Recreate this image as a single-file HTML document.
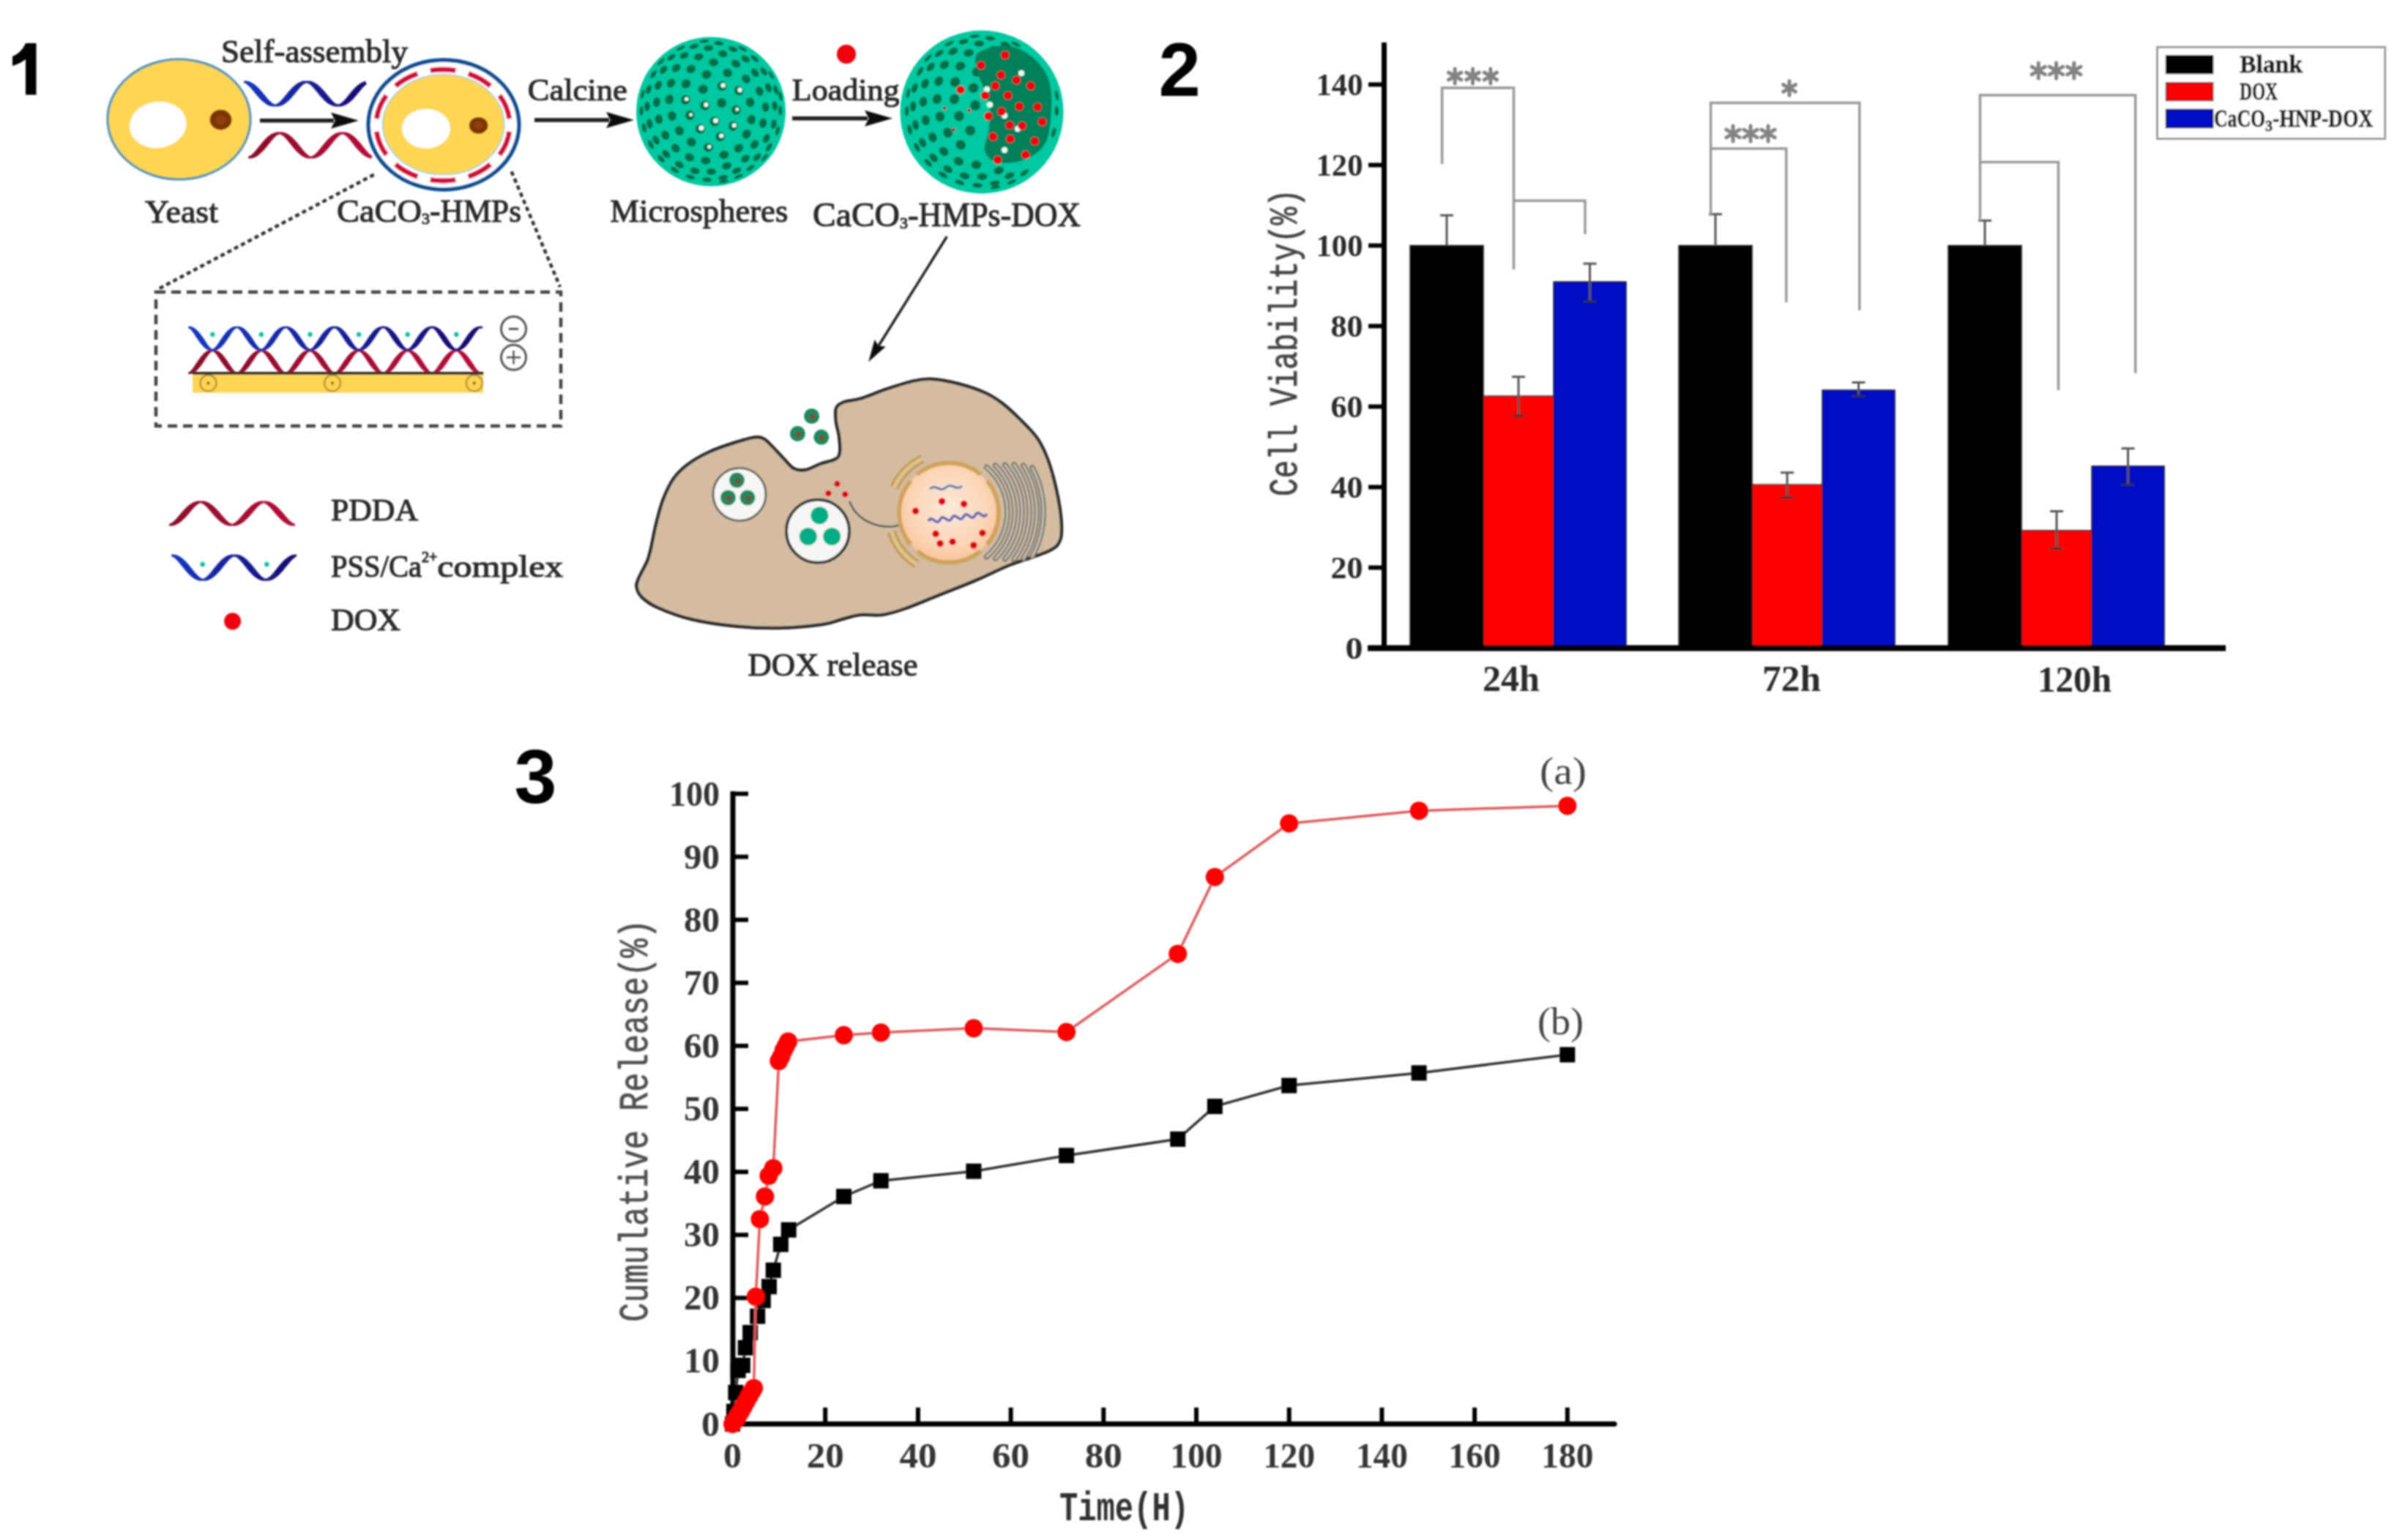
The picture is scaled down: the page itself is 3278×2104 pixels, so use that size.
<!DOCTYPE html><html><head><meta charset="utf-8"><style>html,body{margin:0;padding:0;background:#fff;overflow:hidden}svg{display:block}</style></head><body><svg width="3278" height="2104" viewBox="0 0 3278 2104"><defs><filter id="soft" x="-5%" y="-5%" width="110%" height="110%"><feGaussianBlur stdDeviation="1.2"/></filter><radialGradient id="nuc" cx="0.5" cy="0.45" r="0.55"><stop offset="0" stop-color="#fde9dc"/><stop offset="0.7" stop-color="#fbd6b8"/><stop offset="1" stop-color="#f8c49b"/></radialGradient><linearGradient id="bluew" x1="0" x2="1"><stop offset="0" stop-color="#1238c0"/><stop offset="1" stop-color="#1a0a70"/></linearGradient><linearGradient id="redw" x1="0" x2="1"><stop offset="0" stop-color="#8a0a2a"/><stop offset="1" stop-color="#b8103a"/></linearGradient></defs><rect width="3278" height="2104" fill="#fff"/><g filter="url(#soft)"><path d="M35,59 L49.5,59 L49.5,129.5 L35,129.5 L35,81 C30,85 24,88 17,90 L17,77 C25,74 31,68 35,59 Z" fill="#000"/>
<text x="1582.5" y="130.5" font-family="'Liberation Sans', sans-serif" font-size="103" font-weight="bold" fill="#000" text-anchor="start">2</text>
<text x="702.5" y="1096.5" font-family="'Liberation Sans', sans-serif" font-size="104" font-weight="bold" fill="#000" text-anchor="start">3</text>
<rect x="1926" y="335.5" width="100" height="550.0" fill="#050505" stroke="#222" stroke-width="1.5"/>
<rect x="2026" y="541.2" width="96" height="344.3" fill="#ff0000" stroke="#222" stroke-width="1.5"/>
<rect x="2122" y="385.0" width="99" height="500.5" fill="#0008c4" stroke="#222" stroke-width="1.5"/>
<line x1="1976.0" y1="294.2" x2="1976.0" y2="335.5" stroke="#555" stroke-width="3"/>
<line x1="1967.0" y1="294.2" x2="1985.0" y2="294.2" stroke="#555" stroke-width="3"/>
<line x1="2074.0" y1="514.8" x2="2074.0" y2="568.1" stroke="#555" stroke-width="3"/>
<line x1="2065.0" y1="514.8" x2="2083.0" y2="514.8" stroke="#555" stroke-width="3"/>
<line x1="2065.0" y1="568.1" x2="2083.0" y2="568.1" stroke="#333" stroke-width="3"/>
<line x1="2171.5" y1="360.2" x2="2171.5" y2="412.0" stroke="#555" stroke-width="3"/>
<line x1="2162.5" y1="360.2" x2="2180.5" y2="360.2" stroke="#555" stroke-width="3"/>
<line x1="2162.5" y1="412.0" x2="2180.5" y2="412.0" stroke="#333" stroke-width="3"/>
<rect x="2293" y="335.5" width="100" height="550.0" fill="#050505" stroke="#222" stroke-width="1.5"/>
<rect x="2393" y="662.2" width="96" height="223.3" fill="#ff0000" stroke="#222" stroke-width="1.5"/>
<rect x="2489" y="533.0" width="99" height="352.5" fill="#0008c4" stroke="#222" stroke-width="1.5"/>
<line x1="2343.0" y1="292.6" x2="2343.0" y2="335.5" stroke="#555" stroke-width="3"/>
<line x1="2334.0" y1="292.6" x2="2352.0" y2="292.6" stroke="#555" stroke-width="3"/>
<line x1="2441.0" y1="645.7" x2="2441.0" y2="679.8" stroke="#555" stroke-width="3"/>
<line x1="2432.0" y1="645.7" x2="2450.0" y2="645.7" stroke="#555" stroke-width="3"/>
<line x1="2432.0" y1="679.8" x2="2450.0" y2="679.8" stroke="#333" stroke-width="3"/>
<line x1="2538.5" y1="522.5" x2="2538.5" y2="541.2" stroke="#555" stroke-width="3"/>
<line x1="2529.5" y1="522.5" x2="2547.5" y2="522.5" stroke="#555" stroke-width="3"/>
<line x1="2529.5" y1="541.2" x2="2547.5" y2="541.2" stroke="#333" stroke-width="3"/>
<rect x="2661" y="335.5" width="100" height="550.0" fill="#050505" stroke="#222" stroke-width="1.5"/>
<rect x="2761" y="724.9" width="96" height="160.6" fill="#ff0000" stroke="#222" stroke-width="1.5"/>
<rect x="2857" y="636.9" width="99" height="248.6" fill="#0008c4" stroke="#222" stroke-width="1.5"/>
<line x1="2711.0" y1="301.4" x2="2711.0" y2="335.5" stroke="#555" stroke-width="3"/>
<line x1="2702.0" y1="301.4" x2="2720.0" y2="301.4" stroke="#555" stroke-width="3"/>
<line x1="2809.0" y1="698.5" x2="2809.0" y2="749.6" stroke="#555" stroke-width="3"/>
<line x1="2800.0" y1="698.5" x2="2818.0" y2="698.5" stroke="#555" stroke-width="3"/>
<line x1="2800.0" y1="749.6" x2="2818.0" y2="749.6" stroke="#333" stroke-width="3"/>
<line x1="2906.5" y1="612.7" x2="2906.5" y2="662.2" stroke="#555" stroke-width="3"/>
<line x1="2897.5" y1="612.7" x2="2915.5" y2="612.7" stroke="#555" stroke-width="3"/>
<line x1="2897.5" y1="662.2" x2="2915.5" y2="662.2" stroke="#333" stroke-width="3"/>
<line x1="1890.5" y1="58" x2="1890.5" y2="889" stroke="#000" stroke-width="7"/>
<line x1="1868" y1="885.5" x2="3040" y2="885.5" stroke="#000" stroke-width="8"/>
<line x1="1869" y1="885.5" x2="1890.5" y2="885.5" stroke="#000" stroke-width="6"/>
<text x="1861.5" y="900.0" font-family="'Liberation Serif', serif" font-size="43" font-weight="bold" fill="#2a2a2a" text-anchor="end" textLength="24" lengthAdjust="spacingAndGlyphs">0</text>
<line x1="1869" y1="775.5" x2="1890.5" y2="775.5" stroke="#000" stroke-width="6"/>
<text x="1861.5" y="790.0" font-family="'Liberation Serif', serif" font-size="43" font-weight="bold" fill="#2a2a2a" text-anchor="end" textLength="44" lengthAdjust="spacingAndGlyphs">20</text>
<line x1="1869" y1="665.5" x2="1890.5" y2="665.5" stroke="#000" stroke-width="6"/>
<text x="1861.5" y="680.0" font-family="'Liberation Serif', serif" font-size="43" font-weight="bold" fill="#2a2a2a" text-anchor="end" textLength="44" lengthAdjust="spacingAndGlyphs">40</text>
<line x1="1869" y1="555.5" x2="1890.5" y2="555.5" stroke="#000" stroke-width="6"/>
<text x="1861.5" y="570.0" font-family="'Liberation Serif', serif" font-size="43" font-weight="bold" fill="#2a2a2a" text-anchor="end" textLength="44" lengthAdjust="spacingAndGlyphs">60</text>
<line x1="1869" y1="445.5" x2="1890.5" y2="445.5" stroke="#000" stroke-width="6"/>
<text x="1861.5" y="460.0" font-family="'Liberation Serif', serif" font-size="43" font-weight="bold" fill="#2a2a2a" text-anchor="end" textLength="44" lengthAdjust="spacingAndGlyphs">80</text>
<line x1="1869" y1="335.5" x2="1890.5" y2="335.5" stroke="#000" stroke-width="6"/>
<text x="1861.5" y="350.0" font-family="'Liberation Serif', serif" font-size="43" font-weight="bold" fill="#2a2a2a" text-anchor="end" textLength="64" lengthAdjust="spacingAndGlyphs">100</text>
<line x1="1869" y1="225.5" x2="1890.5" y2="225.5" stroke="#000" stroke-width="6"/>
<text x="1861.5" y="240.0" font-family="'Liberation Serif', serif" font-size="43" font-weight="bold" fill="#2a2a2a" text-anchor="end" textLength="64" lengthAdjust="spacingAndGlyphs">120</text>
<line x1="1869" y1="115.5" x2="1890.5" y2="115.5" stroke="#000" stroke-width="6"/>
<text x="1861.5" y="130.0" font-family="'Liberation Serif', serif" font-size="43" font-weight="bold" fill="#2a2a2a" text-anchor="end" textLength="64" lengthAdjust="spacingAndGlyphs">140</text>
<text x="2064.0" y="943.5" font-family="'Liberation Serif', serif" font-size="50" font-weight="bold" fill="#2a2a2a" text-anchor="middle" textLength="78" lengthAdjust="spacingAndGlyphs">24h</text>
<text x="2447.0" y="943.5" font-family="'Liberation Serif', serif" font-size="50" font-weight="bold" fill="#2a2a2a" text-anchor="middle" textLength="80" lengthAdjust="spacingAndGlyphs">72h</text>
<text x="2833.5" y="945.0" font-family="'Liberation Serif', serif" font-size="50" font-weight="bold" fill="#2a2a2a" text-anchor="middle" textLength="101" lengthAdjust="spacingAndGlyphs">120h</text>
<text transform="translate(1771,678) rotate(-90)" font-family="'Liberation Mono', monospace" font-size="54" font-weight="normal" fill="#444" stroke="#444" stroke-width="0.8" textLength="420" lengthAdjust="spacingAndGlyphs">Cell Viability(%)</text>
<path d="M1969.6,224 V120 H2067.5 V368" stroke="#999" stroke-width="3.5" fill="none"/>
<path d="M2067.5,274.3 H2165 V320" stroke="#999" stroke-width="3.5" fill="none"/>
<path d="M2336.6,295 V140.5 H2539.7 V424" stroke="#999" stroke-width="3.5" fill="none"/>
<path d="M2336.6,203 H2439.7 V413" stroke="#999" stroke-width="3.5" fill="none"/>
<path d="M2704.4,302 V130 H2916.6 V510" stroke="#999" stroke-width="3.5" fill="none"/>
<path d="M2704.4,221.6 H2811.4 V533" stroke="#999" stroke-width="3.5" fill="none"/>
<path d="M1987.2,94.0 L1987.2,114.0 M1995.8,99.0 L1978.5,109.0 M1995.8,109.0 L1978.5,99.0 " stroke="#838383" stroke-width="5" stroke-linecap="round"/>
<path d="M2011.5,94.0 L2011.5,114.0 M2020.2,99.0 L2002.8,109.0 M2020.2,109.0 L2002.8,99.0 " stroke="#838383" stroke-width="5" stroke-linecap="round"/>
<path d="M2035.8,94.0 L2035.8,114.0 M2044.5,99.0 L2027.2,109.0 M2044.5,109.0 L2027.2,99.0 " stroke="#838383" stroke-width="5" stroke-linecap="round"/>
<path d="M2444.0,110.8 L2444.0,130.2 M2452.4,115.7 L2435.6,125.3 M2452.4,125.3 L2435.6,115.7 " stroke="#838383" stroke-width="5" stroke-linecap="round"/>
<path d="M2367.0,171.9 L2367.0,193.1 M2376.1,177.2 L2357.9,187.8 M2376.1,187.8 L2357.9,177.2 " stroke="#838383" stroke-width="5" stroke-linecap="round"/>
<path d="M2391.0,171.9 L2391.0,193.1 M2400.1,177.2 L2381.9,187.8 M2400.1,187.8 L2381.9,177.2 " stroke="#838383" stroke-width="5" stroke-linecap="round"/>
<path d="M2415.0,171.9 L2415.0,193.1 M2424.1,177.2 L2405.9,187.8 M2424.1,187.8 L2405.9,177.2 " stroke="#838383" stroke-width="5" stroke-linecap="round"/>
<path d="M2784.2,86.0 L2784.2,107.0 M2793.3,91.2 L2775.1,101.8 M2793.3,101.8 L2775.1,91.2 " stroke="#838383" stroke-width="5" stroke-linecap="round"/>
<path d="M2808.5,86.0 L2808.5,107.0 M2817.6,91.2 L2799.4,101.8 M2817.6,101.8 L2799.4,91.2 " stroke="#838383" stroke-width="5" stroke-linecap="round"/>
<path d="M2832.8,86.0 L2832.8,107.0 M2841.9,91.2 L2823.7,101.8 M2841.9,101.8 L2823.7,91.2 " stroke="#838383" stroke-width="5" stroke-linecap="round"/>
<rect x="2946.5" y="64.5" width="311" height="125" fill="#fff" stroke="#999" stroke-width="3"/>
<rect x="2958.5" y="76" width="64" height="24.5" fill="#050505" stroke="#111" stroke-width="1.5"/>
<rect x="2958.5" y="113" width="64" height="24.5" fill="#ff0000" stroke="#400" stroke-width="1.5"/>
<rect x="2958.5" y="149.5" width="64" height="25" fill="#0008c4" stroke="#002" stroke-width="1.5"/>
<text x="3059.0" y="98.5" font-family="'Liberation Serif', serif" font-size="34" font-weight="bold" fill="#222" text-anchor="start" textLength="86" lengthAdjust="spacingAndGlyphs" stroke="#222" stroke-width="0.8">Blank</text>
<text x="3059.0" y="136.0" font-family="'Liberation Serif', serif" font-size="34" font-weight="bold" fill="#222" text-anchor="start" textLength="52" lengthAdjust="spacingAndGlyphs" stroke="#222" stroke-width="0.8">DOX</text>
<text x="3024" y="173" font-family="'Liberation Serif', serif" font-size="34" font-weight="bold" fill="#222" stroke="#222" stroke-width="0.8"><tspan textLength="70" lengthAdjust="spacingAndGlyphs">CaCO</tspan><tspan dy="6" font-size="22" textLength="10" lengthAdjust="spacingAndGlyphs">3</tspan><tspan dy="-6" textLength="137" lengthAdjust="spacingAndGlyphs">-HNP-DOX</tspan></text>
<line x1="1001" y1="1081" x2="1001" y2="1949" stroke="#000" stroke-width="7"/>
<line x1="998" y1="1945.5" x2="2205" y2="1945.5" stroke="#000" stroke-width="7" stroke-linecap="round"/>
<line x1="1001" y1="1945.5" x2="1022" y2="1945.5" stroke="#000" stroke-width="6"/>
<text x="983.0" y="1961.5" font-family="'Liberation Serif', serif" font-size="48" font-weight="bold" fill="#353535" text-anchor="end" textLength="25" lengthAdjust="spacingAndGlyphs">0</text>
<line x1="1001" y1="1859.4" x2="1022" y2="1859.4" stroke="#000" stroke-width="6"/>
<text x="983.0" y="1875.4" font-family="'Liberation Serif', serif" font-size="48" font-weight="bold" fill="#353535" text-anchor="end" textLength="49" lengthAdjust="spacingAndGlyphs">10</text>
<line x1="1001" y1="1773.3" x2="1022" y2="1773.3" stroke="#000" stroke-width="6"/>
<text x="983.0" y="1789.3" font-family="'Liberation Serif', serif" font-size="48" font-weight="bold" fill="#353535" text-anchor="end" textLength="49" lengthAdjust="spacingAndGlyphs">20</text>
<line x1="1001" y1="1687.2" x2="1022" y2="1687.2" stroke="#000" stroke-width="6"/>
<text x="983.0" y="1703.2" font-family="'Liberation Serif', serif" font-size="48" font-weight="bold" fill="#353535" text-anchor="end" textLength="49" lengthAdjust="spacingAndGlyphs">30</text>
<line x1="1001" y1="1601.1" x2="1022" y2="1601.1" stroke="#000" stroke-width="6"/>
<text x="983.0" y="1617.1" font-family="'Liberation Serif', serif" font-size="48" font-weight="bold" fill="#353535" text-anchor="end" textLength="49" lengthAdjust="spacingAndGlyphs">40</text>
<line x1="1001" y1="1515.0" x2="1022" y2="1515.0" stroke="#000" stroke-width="6"/>
<text x="983.0" y="1531.0" font-family="'Liberation Serif', serif" font-size="48" font-weight="bold" fill="#353535" text-anchor="end" textLength="49" lengthAdjust="spacingAndGlyphs">50</text>
<line x1="1001" y1="1428.9" x2="1022" y2="1428.9" stroke="#000" stroke-width="6"/>
<text x="983.0" y="1444.9" font-family="'Liberation Serif', serif" font-size="48" font-weight="bold" fill="#353535" text-anchor="end" textLength="49" lengthAdjust="spacingAndGlyphs">60</text>
<line x1="1001" y1="1342.8" x2="1022" y2="1342.8" stroke="#000" stroke-width="6"/>
<text x="983.0" y="1358.8" font-family="'Liberation Serif', serif" font-size="48" font-weight="bold" fill="#353535" text-anchor="end" textLength="49" lengthAdjust="spacingAndGlyphs">70</text>
<line x1="1001" y1="1256.7" x2="1022" y2="1256.7" stroke="#000" stroke-width="6"/>
<text x="983.0" y="1272.7" font-family="'Liberation Serif', serif" font-size="48" font-weight="bold" fill="#353535" text-anchor="end" textLength="49" lengthAdjust="spacingAndGlyphs">80</text>
<line x1="1001" y1="1170.6" x2="1022" y2="1170.6" stroke="#000" stroke-width="6"/>
<text x="983.0" y="1186.6" font-family="'Liberation Serif', serif" font-size="48" font-weight="bold" fill="#353535" text-anchor="end" textLength="49" lengthAdjust="spacingAndGlyphs">90</text>
<line x1="1001" y1="1084.5" x2="1022" y2="1084.5" stroke="#000" stroke-width="6"/>
<text x="983.0" y="1100.5" font-family="'Liberation Serif', serif" font-size="48" font-weight="bold" fill="#353535" text-anchor="end" textLength="69" lengthAdjust="spacingAndGlyphs">100</text>
<line x1="1000.5" y1="1923" x2="1000.5" y2="1945" stroke="#000" stroke-width="6"/>
<text x="1000.5" y="2005.0" font-family="'Liberation Serif', serif" font-size="48" font-weight="bold" fill="#353535" text-anchor="middle" textLength="25" lengthAdjust="spacingAndGlyphs">0</text>
<line x1="1127.2" y1="1923" x2="1127.2" y2="1945" stroke="#000" stroke-width="6"/>
<text x="1127.2" y="2005.0" font-family="'Liberation Serif', serif" font-size="48" font-weight="bold" fill="#353535" text-anchor="middle" textLength="51" lengthAdjust="spacingAndGlyphs">20</text>
<line x1="1253.9" y1="1923" x2="1253.9" y2="1945" stroke="#000" stroke-width="6"/>
<text x="1253.9" y="2005.0" font-family="'Liberation Serif', serif" font-size="48" font-weight="bold" fill="#353535" text-anchor="middle" textLength="51" lengthAdjust="spacingAndGlyphs">40</text>
<line x1="1380.6" y1="1923" x2="1380.6" y2="1945" stroke="#000" stroke-width="6"/>
<text x="1380.6" y="2005.0" font-family="'Liberation Serif', serif" font-size="48" font-weight="bold" fill="#353535" text-anchor="middle" textLength="51" lengthAdjust="spacingAndGlyphs">60</text>
<line x1="1507.3" y1="1923" x2="1507.3" y2="1945" stroke="#000" stroke-width="6"/>
<text x="1507.3" y="2005.0" font-family="'Liberation Serif', serif" font-size="48" font-weight="bold" fill="#353535" text-anchor="middle" textLength="51" lengthAdjust="spacingAndGlyphs">80</text>
<line x1="1634.0" y1="1923" x2="1634.0" y2="1945" stroke="#000" stroke-width="6"/>
<text x="1634.0" y="2005.0" font-family="'Liberation Serif', serif" font-size="48" font-weight="bold" fill="#353535" text-anchor="middle" textLength="71" lengthAdjust="spacingAndGlyphs">100</text>
<line x1="1760.7" y1="1923" x2="1760.7" y2="1945" stroke="#000" stroke-width="6"/>
<text x="1760.7" y="2005.0" font-family="'Liberation Serif', serif" font-size="48" font-weight="bold" fill="#353535" text-anchor="middle" textLength="71" lengthAdjust="spacingAndGlyphs">120</text>
<line x1="1887.4" y1="1923" x2="1887.4" y2="1945" stroke="#000" stroke-width="6"/>
<text x="1887.4" y="2005.0" font-family="'Liberation Serif', serif" font-size="48" font-weight="bold" fill="#353535" text-anchor="middle" textLength="71" lengthAdjust="spacingAndGlyphs">140</text>
<line x1="2014.1" y1="1923" x2="2014.1" y2="1945" stroke="#000" stroke-width="6"/>
<text x="2014.1" y="2005.0" font-family="'Liberation Serif', serif" font-size="48" font-weight="bold" fill="#353535" text-anchor="middle" textLength="71" lengthAdjust="spacingAndGlyphs">160</text>
<line x1="2140.8" y1="1923" x2="2140.8" y2="1945" stroke="#000" stroke-width="6"/>
<text x="2140.8" y="2005.0" font-family="'Liberation Serif', serif" font-size="48" font-weight="bold" fill="#353535" text-anchor="middle" textLength="71" lengthAdjust="spacingAndGlyphs">180</text>
<text transform="translate(884,1806) rotate(-90)" font-family="'Liberation Mono', monospace" font-size="56" font-weight="normal" fill="#505050" stroke="#505050" stroke-width="0.8" textLength="550" lengthAdjust="spacingAndGlyphs">Cumulative Release(%)</text>
<text x="1447" y="2077" font-family="'Liberation Mono', monospace" font-size="56" font-weight="bold" fill="#333" textLength="177" lengthAdjust="spacingAndGlyphs">Time(H)</text>
<text x="2103.0" y="1071.0" font-family="'Liberation Serif', serif" font-size="52" font-weight="normal" fill="#444" text-anchor="start" textLength="64" lengthAdjust="spacingAndGlyphs">(a)</text>
<text x="2100.0" y="1413.0" font-family="'Liberation Serif', serif" font-size="52" font-weight="normal" fill="#444" text-anchor="start" textLength="63" lengthAdjust="spacingAndGlyphs">(b)</text>
<polyline points="1000.5,1945.5 1002.4,1928.3 1004.9,1902.5 1008.1,1872.3 1014.4,1865.4 1018.2,1841.3 1024.6,1820.7 1034.7,1798.3 1042.3,1776.7 1050.5,1757.8 1056.2,1735.4 1066.4,1700.1 1077.2,1680.3 1152.5,1634.7 1203.2,1613.2 1329.9,1600.2 1456.6,1578.7 1608.7,1556.3 1659.3,1511.6 1760.7,1483.1 1938.1,1465.9 2140.8,1441.0" fill="none" stroke="#333" stroke-width="3.5"/>
<rect x="990.0" y="1935.0" width="21" height="21" fill="#050505"/>
<rect x="991.9" y="1917.8" width="21" height="21" fill="#050505"/>
<rect x="994.4" y="1892.0" width="21" height="21" fill="#050505"/>
<rect x="997.6" y="1861.8" width="21" height="21" fill="#050505"/>
<rect x="1003.9" y="1854.9" width="21" height="21" fill="#050505"/>
<rect x="1007.7" y="1830.8" width="21" height="21" fill="#050505"/>
<rect x="1014.1" y="1810.2" width="21" height="21" fill="#050505"/>
<rect x="1024.2" y="1787.8" width="21" height="21" fill="#050505"/>
<rect x="1031.8" y="1766.2" width="21" height="21" fill="#050505"/>
<rect x="1040.0" y="1747.3" width="21" height="21" fill="#050505"/>
<rect x="1045.7" y="1724.9" width="21" height="21" fill="#050505"/>
<rect x="1055.9" y="1689.6" width="21" height="21" fill="#050505"/>
<rect x="1066.7" y="1669.8" width="21" height="21" fill="#050505"/>
<rect x="1142.0" y="1624.2" width="21" height="21" fill="#050505"/>
<rect x="1192.7" y="1602.7" width="21" height="21" fill="#050505"/>
<rect x="1319.4" y="1589.7" width="21" height="21" fill="#050505"/>
<rect x="1446.1" y="1568.2" width="21" height="21" fill="#050505"/>
<rect x="1598.2" y="1545.8" width="21" height="21" fill="#050505"/>
<rect x="1648.8" y="1501.1" width="21" height="21" fill="#050505"/>
<rect x="1750.2" y="1472.6" width="21" height="21" fill="#050505"/>
<rect x="1927.6" y="1455.4" width="21" height="21" fill="#050505"/>
<rect x="2130.3" y="1430.5" width="21" height="21" fill="#050505"/>
<polyline points="1000.5,1945.5 1004.3,1940.3 1008.1,1934.3 1011.9,1928.3 1015.7,1921.4 1019.5,1914.5 1023.3,1907.6 1027.1,1900.7 1029.6,1896.4 1032.2,1771.6 1037.9,1665.7 1044.8,1634.7 1049.9,1606.3 1056.2,1595.9 1063.8,1449.6 1067.0,1443.5 1070.2,1434.9 1073.4,1428.9 1076.5,1422.9 1152.5,1414.3 1203.2,1410.8 1329.9,1404.8 1456.6,1410.0 1608.7,1303.2 1659.3,1198.2 1760.7,1125.0 1938.1,1107.7 2140.8,1100.9" fill="none" stroke="#e05a5a" stroke-width="3.5"/>
<circle cx="1000.5" cy="1945.5" r="12.5" fill="#ff0000"/>
<circle cx="1004.3" cy="1940.3" r="12.5" fill="#ff0000"/>
<circle cx="1008.1" cy="1934.3" r="12.5" fill="#ff0000"/>
<circle cx="1011.9" cy="1928.3" r="12.5" fill="#ff0000"/>
<circle cx="1015.7" cy="1921.4" r="12.5" fill="#ff0000"/>
<circle cx="1019.5" cy="1914.5" r="12.5" fill="#ff0000"/>
<circle cx="1023.3" cy="1907.6" r="12.5" fill="#ff0000"/>
<circle cx="1027.1" cy="1900.7" r="12.5" fill="#ff0000"/>
<circle cx="1029.6" cy="1896.4" r="12.5" fill="#ff0000"/>
<circle cx="1032.2" cy="1771.6" r="12.5" fill="#ff0000"/>
<circle cx="1037.9" cy="1665.7" r="12.5" fill="#ff0000"/>
<circle cx="1044.8" cy="1634.7" r="12.5" fill="#ff0000"/>
<circle cx="1049.9" cy="1606.3" r="12.5" fill="#ff0000"/>
<circle cx="1056.2" cy="1595.9" r="12.5" fill="#ff0000"/>
<circle cx="1063.8" cy="1449.6" r="12.5" fill="#ff0000"/>
<circle cx="1067.0" cy="1443.5" r="12.5" fill="#ff0000"/>
<circle cx="1070.2" cy="1434.9" r="12.5" fill="#ff0000"/>
<circle cx="1073.4" cy="1428.9" r="12.5" fill="#ff0000"/>
<circle cx="1076.5" cy="1422.9" r="12.5" fill="#ff0000"/>
<circle cx="1152.5" cy="1414.3" r="12.5" fill="#ff0000"/>
<circle cx="1203.2" cy="1410.8" r="12.5" fill="#ff0000"/>
<circle cx="1329.9" cy="1404.8" r="12.5" fill="#ff0000"/>
<circle cx="1456.6" cy="1410.0" r="12.5" fill="#ff0000"/>
<circle cx="1608.7" cy="1303.2" r="12.5" fill="#ff0000"/>
<circle cx="1659.3" cy="1198.2" r="12.5" fill="#ff0000"/>
<circle cx="1760.7" cy="1125.0" r="12.5" fill="#ff0000"/>
<circle cx="1938.1" cy="1107.7" r="12.5" fill="#ff0000"/>
<circle cx="2140.8" cy="1100.9" r="12.5" fill="#ff0000"/>
<ellipse cx="244.5" cy="163" rx="97.5" ry="82" fill="#ffd651" stroke="#5a9ab4" stroke-width="3.5"/>
<ellipse cx="215.7" cy="170.5" rx="39" ry="31.5" fill="#fff" transform="rotate(-8 215.7 170.5)"/>
<ellipse cx="301.5" cy="163.7" rx="15" ry="14" fill="#7e3602"/>
<ellipse cx="301.5" cy="163.7" rx="7" ry="6" fill="#8e4208"/>
<path d="M333.0,113.2 L334.2,113.6 L335.4,114.1 L336.5,114.8 L337.5,115.5 L338.6,116.4 L339.7,117.4 L340.8,118.5 L341.9,119.6 L343.1,120.9 L344.2,122.3 L345.4,123.8 L346.7,125.3 L348.0,126.9 L349.3,128.5 L350.6,130.1 L352.0,131.7 L353.5,133.3 L354.9,134.9 L356.5,136.5 L358.0,137.9 L359.6,139.3 L361.2,140.6 L362.8,141.8 L364.5,142.8 L366.2,143.7 L367.9,144.4 L369.6,145.0 L371.3,145.3 L373.0,145.5 L374.6,145.4 L376.2,145.3 L377.8,145.5 L379.4,145.5 L381.1,145.2 L382.8,144.8 L384.5,144.2 L386.2,143.4 L387.9,142.5 L389.5,141.4 L391.2,140.2 L392.8,138.8 L394.3,137.4 L395.9,135.9 L397.4,134.4 L398.8,132.8 L400.2,131.1 L401.6,129.5 L403.0,127.9 L404.3,126.3 L405.6,124.7 L406.8,123.2 L408.0,121.8 L409.2,120.5 L410.3,119.2 L411.4,118.1 L412.5,117.0 L413.6,116.1 L414.6,115.2 L415.7,114.5 L416.8,113.9 L418.0,113.5 L419.2,113.4 L420.4,113.8 L421.5,114.3 L422.6,115.0 L423.7,115.8 L424.8,116.7 L425.9,117.7 L427.0,118.9 L428.1,120.1 L429.3,121.4 L430.4,122.8 L431.7,124.3 L432.9,125.8 L434.2,127.4 L435.6,129.0 L436.9,130.7 L438.3,132.3 L439.8,133.9 L441.3,135.5 L442.8,137.0 L444.3,138.4 L445.9,139.8 L447.6,141.0 L449.2,142.2 L450.9,143.1 L452.6,144.0 L454.3,144.6 L456.0,145.1 L457.7,145.4 L459.3,145.5 L461.0,145.4 L462.5,145.4 L464.1,145.5 L465.8,145.4 L467.5,145.1 L469.2,144.6 L470.9,144.0 L472.6,143.1 L474.3,142.1 L475.9,141.0 L477.5,139.7 L479.1,138.4 L480.7,136.9 L482.2,135.4 L483.7,133.8 L485.1,132.2 L486.5,130.6 L487.9,129.0 L489.2,127.3 L490.5,125.8 L491.8,124.2 L493.0,122.7 L494.2,121.3 L495.3,120.0 L496.5,118.8 L497.6,117.7 L498.7,116.7 L499.7,115.8 L500.8,115.0 L499.2,110.8 L497.5,111.3 L495.8,111.9 L494.1,112.7 L492.4,113.7 L490.7,114.8 L489.1,116.0 L487.5,117.3 L486.0,118.8 L484.4,120.3 L482.9,121.8 L481.5,123.4 L480.1,125.1 L478.7,126.7 L477.4,128.3 L476.0,129.9 L474.8,131.5 L473.6,132.9 L472.4,134.4 L471.2,135.7 L470.1,136.9 L469.0,138.1 L467.9,139.1 L466.8,140.0 L465.7,140.9 L464.6,141.5 L463.5,142.1 L462.3,142.6 L461.1,142.6 L459.9,142.1 L458.8,141.6 L457.7,140.9 L456.6,140.1 L455.6,139.2 L454.5,138.1 L453.4,137.0 L452.2,135.8 L451.1,134.4 L449.9,133.0 L448.7,131.5 L447.4,130.0 L446.1,128.4 L444.8,126.8 L443.4,125.1 L442.0,123.5 L440.5,121.9 L439.0,120.3 L437.5,118.8 L436.0,117.4 L434.4,116.1 L432.7,114.8 L431.1,113.7 L429.4,112.7 L427.7,111.9 L426.0,111.3 L424.3,110.8 L422.6,110.6 L420.9,110.5 L419.3,110.7 L417.8,110.6 L416.2,110.5 L414.5,110.6 L412.8,110.9 L411.1,111.5 L409.4,112.2 L407.7,113.0 L406.0,114.0 L404.4,115.2 L402.7,116.5 L401.2,117.8 L399.6,119.3 L398.1,120.8 L396.6,122.4 L395.2,124.0 L393.8,125.6 L392.4,127.3 L391.1,128.9 L389.8,130.4 L388.6,132.0 L387.3,133.4 L386.2,134.8 L385.0,136.1 L383.9,137.3 L382.8,138.5 L381.7,139.4 L380.6,140.3 L379.5,141.1 L378.4,141.8 L377.3,142.3 L376.1,142.7 L374.9,142.4 L373.7,142.0 L372.6,141.3 L371.5,140.6 L370.5,139.8 L369.4,138.8 L368.3,137.7 L367.2,136.6 L366.0,135.3 L364.9,133.9 L363.7,132.5 L362.4,131.0 L361.2,129.4 L359.8,127.8 L358.5,126.2 L357.1,124.6 L355.7,122.9 L354.2,121.4 L352.7,119.8 L351.2,118.3 L349.6,116.9 L348.0,115.6 L346.4,114.4 L344.7,113.4 L343.0,112.4 L341.3,111.7 L339.6,111.1 L337.9,110.7 L336.2,110.5 L334.6,110.5 L333.0,110.8 Z" fill="url(#bluew)"/>
<path d="M339.0,216.2 L340.6,216.5 L342.3,216.5 L344.0,216.2 L345.7,215.8 L347.4,215.2 L349.2,214.4 L350.9,213.4 L352.6,212.3 L354.2,211.0 L355.8,209.6 L357.4,208.1 L359.0,206.6 L360.5,205.0 L362.0,203.3 L363.4,201.6 L364.8,199.9 L366.2,198.2 L367.5,196.5 L368.8,194.9 L370.0,193.4 L371.2,191.9 L372.4,190.5 L373.5,189.2 L374.7,188.0 L375.8,186.9 L376.8,186.0 L377.9,185.2 L379.0,184.4 L380.1,183.9 L381.3,183.4 L382.6,183.4 L383.7,183.9 L384.9,184.5 L386.0,185.2 L387.0,186.1 L388.1,187.0 L389.2,188.1 L390.3,189.3 L391.5,190.6 L392.7,192.0 L393.9,193.5 L395.1,195.1 L396.4,196.7 L397.7,198.3 L399.1,200.0 L400.5,201.7 L402.0,203.4 L403.4,205.1 L404.9,206.7 L406.5,208.3 L408.1,209.7 L409.7,211.1 L411.4,212.4 L413.1,213.5 L414.8,214.5 L416.5,215.3 L418.2,215.9 L420.0,216.3 L421.7,216.5 L423.3,216.5 L424.9,216.3 L426.5,216.5 L428.2,216.5 L429.9,216.2 L431.6,215.8 L433.4,215.1 L435.1,214.3 L436.8,213.3 L438.5,212.2 L440.1,210.9 L441.8,209.5 L443.3,208.0 L444.9,206.5 L446.4,204.8 L447.9,203.2 L449.3,201.5 L450.7,199.8 L452.1,198.1 L453.4,196.4 L454.7,194.8 L455.9,193.3 L457.1,191.8 L458.3,190.4 L459.4,189.1 L460.5,187.9 L461.6,186.9 L462.7,185.9 L463.8,185.1 L464.9,184.4 L466.0,183.8 L467.2,183.4 L468.5,183.5 L469.6,183.9 L470.8,184.5 L471.8,185.3 L472.9,186.1 L474.0,187.1 L475.1,188.2 L476.2,189.4 L477.4,190.7 L478.6,192.1 L479.8,193.6 L481.0,195.2 L482.3,196.8 L483.7,198.5 L485.0,200.2 L486.4,201.9 L487.9,203.6 L489.3,205.2 L490.9,206.8 L492.4,208.4 L494.0,209.8 L495.6,211.2 L497.3,212.5 L499.0,213.6 L500.7,214.5 L502.4,215.3 L504.2,215.9 L505.9,216.3 L507.6,216.5 L508.4,212.9 L507.3,212.3 L506.2,211.5 L505.1,210.7 L504.0,209.7 L502.9,208.5 L501.8,207.3 L500.6,206.0 L499.5,204.5 L498.2,203.0 L497.0,201.5 L495.7,199.8 L494.3,198.1 L493.0,196.4 L491.6,194.7 L490.1,193.1 L488.6,191.4 L487.1,189.8 L485.5,188.3 L483.9,186.8 L482.3,185.5 L480.6,184.3 L478.9,183.2 L477.2,182.3 L475.5,181.5 L473.7,181.0 L472.0,180.6 L470.3,180.5 L468.7,180.6 L467.1,180.6 L465.5,180.5 L463.8,180.6 L462.1,180.9 L460.3,181.4 L458.6,182.1 L456.9,183.0 L455.2,184.0 L453.5,185.2 L451.9,186.5 L450.2,187.9 L448.7,189.4 L447.1,191.0 L445.6,192.7 L444.2,194.4 L442.8,196.1 L441.4,197.8 L440.0,199.4 L438.7,201.1 L437.5,202.7 L436.2,204.2 L435.0,205.7 L433.9,207.0 L432.7,208.3 L431.6,209.4 L430.5,210.4 L429.4,211.3 L428.4,212.1 L427.3,212.8 L426.1,213.3 L424.9,213.7 L423.7,213.4 L422.5,212.9 L421.4,212.2 L420.3,211.5 L419.2,210.6 L418.2,209.6 L417.0,208.4 L415.9,207.2 L414.8,205.9 L413.6,204.4 L412.3,202.9 L411.1,201.3 L409.8,199.7 L408.4,198.0 L407.1,196.3 L405.6,194.6 L404.2,192.9 L402.7,191.3 L401.2,189.7 L399.6,188.2 L398.0,186.7 L396.4,185.4 L394.7,184.2 L393.0,183.1 L391.3,182.2 L389.5,181.5 L387.8,181.0 L386.1,180.6 L384.4,180.5 L382.8,180.6 L381.2,180.6 L379.5,180.5 L377.9,180.6 L376.1,180.9 L374.4,181.4 L372.7,182.2 L370.9,183.0 L369.2,184.1 L367.6,185.3 L365.9,186.6 L364.3,188.0 L362.8,189.6 L361.2,191.2 L359.7,192.8 L358.3,194.5 L356.9,196.2 L355.5,197.9 L354.1,199.6 L352.8,201.2 L351.6,202.8 L350.3,204.3 L349.1,205.8 L348.0,207.1 L346.8,208.4 L345.7,209.5 L344.6,210.5 L343.6,211.4 L342.5,212.2 L341.4,212.8 L340.2,213.4 L339.0,213.8 Z" fill="url(#redw)"/>
<line x1="355.0" y1="164.7" x2="456.0" y2="164.7" stroke="#222" stroke-width="5.5"/>
<path d="M490.0,164.7 L452.0,175.7 L457.7,164.7 L452.0,153.7 Z" fill="#111"/>
<ellipse cx="606" cy="170.4" rx="102.8" ry="88.5" fill="#fff" stroke="#0c4f94" stroke-width="5.5"/>
<ellipse cx="605" cy="171" rx="91.3" ry="76" fill="none" stroke="#d3103c" stroke-width="7" pathLength="1000" stroke-dasharray="66 34" stroke-dashoffset="83"/>
<ellipse cx="605.7" cy="170.3" rx="83" ry="68.3" fill="#ffd651" stroke="#90c8d8" stroke-width="1.5"/>
<ellipse cx="582" cy="175.7" rx="33" ry="27" fill="#fff"/>
<ellipse cx="653.6" cy="171.4" rx="12.9" ry="11.4" fill="#7e3602"/>
<ellipse cx="653.6" cy="171.4" rx="6" ry="5" fill="#8e4208"/>
<line x1="510.7" y1="238.6" x2="216" y2="395" stroke="#333" stroke-width="4.5" stroke-dasharray="6 4.5"/>
<line x1="698.6" y1="234.3" x2="765" y2="392" stroke="#333" stroke-width="4.5" stroke-dasharray="6 4.5"/>
<rect x="213" y="399" width="553" height="183" fill="none" stroke="#444" stroke-width="4.5" stroke-dasharray="13 8"/>
<rect x="263" y="511" width="397" height="25.5" fill="#ffd651"/>
<circle cx="284.5" cy="523.4" r="11" fill="none" stroke="#b08a3a" stroke-width="2.2"/>
<circle cx="284.5" cy="523.4" r="2.2" fill="#8a6a2a"/>
<circle cx="454" cy="523.4" r="11" fill="none" stroke="#b08a3a" stroke-width="2.2"/>
<circle cx="454" cy="523.4" r="2.2" fill="#8a6a2a"/>
<circle cx="647.7" cy="523.4" r="11" fill="none" stroke="#b08a3a" stroke-width="2.2"/>
<circle cx="647.7" cy="523.4" r="2.2" fill="#8a6a2a"/>
<path d="M257.0,511.0 L261.1,510.9 L265.4,509.0 L269.6,505.6 L273.4,501.2 L276.9,496.4 L280.1,491.6 L282.9,487.2 L285.5,483.7 L287.9,481.3 L290.5,480.1 L293.1,481.6 L295.5,484.3 L298.1,487.9 L301.0,492.4 L304.3,497.2 L307.8,502.0 L311.7,506.2 L315.9,509.4 L320.2,511.1 L324.3,511.1 L328.5,510.7 L332.7,508.5 L336.8,504.9 L340.6,500.4 L344.0,495.6 L347.2,490.8 L350.0,486.6 L352.5,483.3 L354.9,481.0 L357.6,480.3 L360.1,482.0 L362.5,484.8 L365.2,488.6 L368.2,493.2 L371.5,498.1 L375.1,502.8 L379.0,506.9 L383.2,509.8 L387.5,511.2 L391.5,511.2 L395.8,510.5 L400.1,508.0 L404.1,504.2 L407.8,499.6 L411.2,494.8 L414.3,490.0 L417.0,485.9 L419.5,482.8 L421.9,480.7 L424.7,480.5 L427.1,482.4 L429.6,485.4 L432.3,489.4 L435.3,494.0 L438.6,498.9 L442.3,503.5 L446.3,507.5 L450.5,510.2 L454.8,511.2 L458.8,511.2 L463.1,510.1 L467.4,507.4 L471.3,503.5 L475.0,498.8 L478.3,493.9 L481.4,489.3 L484.1,485.3 L486.5,482.4 L489.0,480.5 L491.7,480.7 L494.1,482.8 L496.6,486.0 L499.4,490.1 L502.4,494.8 L505.8,499.7 L509.6,504.3 L513.6,508.0 L517.9,510.5 L522.1,511.2 L526.1,511.2 L530.4,509.8 L534.6,506.8 L538.6,502.7 L542.2,498.0 L545.5,493.1 L548.4,488.6 L551.1,484.8 L553.5,482.0 L556.0,480.2 L558.7,481.0 L561.1,483.3 L563.6,486.6 L566.5,490.9 L569.6,495.6 L573.1,500.5 L576.8,505.0 L580.9,508.5 L585.2,510.7 L589.4,511.1 L593.5,511.1 L597.8,509.4 L601.9,506.2 L605.8,502.0 L609.4,497.2 L612.6,492.3 L615.5,487.9 L618.1,484.2 L620.5,481.6 L623.1,480.1 L625.7,481.3 L628.1,483.8 L630.7,487.3 L633.6,491.6 L636.8,496.5 L640.3,501.3 L644.1,505.6 L648.2,509.0 L652.5,510.9 L656.6,511.0 L660.8,510.9 L659.2,507.5 L656.6,509.0 L654.0,507.6 L651.6,505.0 L649.0,501.5 L646.2,497.1 L642.9,492.2 L639.4,487.4 L635.6,483.1 L631.4,479.8 L627.1,478.0 L623.0,477.9 L618.9,478.2 L614.6,480.2 L610.5,483.7 L606.7,488.1 L603.2,492.9 L600.0,497.7 L597.2,502.0 L594.6,505.5 L592.2,507.8 L589.6,508.8 L587.0,507.2 L584.6,504.5 L582.0,500.8 L579.0,496.3 L575.8,491.4 L572.2,486.6 L568.3,482.5 L564.1,479.4 L559.8,477.9 L555.8,477.8 L551.5,478.4 L547.2,480.7 L543.2,484.4 L539.4,488.9 L536.0,493.8 L532.9,498.5 L530.1,502.7 L527.6,505.9 L525.2,508.1 L522.5,508.6 L520.0,506.8 L517.6,503.9 L514.9,500.1 L511.9,495.5 L508.6,490.6 L505.0,485.9 L501.0,481.9 L496.8,479.0 L492.5,477.8 L488.5,477.8 L484.2,478.7 L479.9,481.3 L475.9,485.1 L472.2,489.7 L468.9,494.6 L465.8,499.3 L463.1,503.3 L460.6,506.4 L458.2,508.4 L455.5,508.4 L453.0,506.4 L450.6,503.4 L447.8,499.3 L444.8,494.7 L441.4,489.8 L437.7,485.2 L433.7,481.3 L429.5,478.7 L425.2,477.8 L421.2,477.8 L416.9,479.0 L412.7,481.8 L408.7,485.8 L405.1,490.5 L401.7,495.4 L398.7,500.0 L396.0,503.9 L393.6,506.8 L391.1,508.6 L388.4,508.2 L386.0,506.0 L383.5,502.7 L380.7,498.6 L377.6,493.8 L374.2,489.0 L370.5,484.4 L366.4,480.8 L362.1,478.4 L357.9,477.8 L353.9,477.9 L349.5,479.4 L345.4,482.4 L341.5,486.6 L337.9,491.3 L334.6,496.2 L331.7,500.7 L329.0,504.5 L326.6,507.2 L324.1,508.8 L321.4,507.9 L319.0,505.5 L316.5,502.1 L313.6,497.8 L310.5,493.0 L307.0,488.2 L303.2,483.7 L299.1,480.3 L294.8,478.2 L290.6,477.9 L286.5,478.0 L282.2,479.8 L278.1,483.1 L274.2,487.4 L270.7,492.2 L267.5,497.0 L264.6,501.4 L262.0,505.0 L259.6,507.5 L257.0,509.0 Z" fill="url(#redw)"/>
<path d="M257.0,448.0 L259.6,449.5 L262.0,452.0 L264.6,455.5 L267.5,459.9 L270.7,464.8 L274.2,469.6 L278.0,473.9 L282.1,477.2 L286.4,479.0 L290.5,479.0 L294.7,478.9 L299.0,476.8 L303.1,473.4 L306.9,469.0 L310.3,464.2 L313.5,459.4 L316.3,455.1 L318.9,451.6 L321.3,449.2 L323.9,448.1 L326.5,449.7 L328.9,452.4 L331.5,456.0 L334.4,460.5 L337.7,465.3 L341.2,470.1 L345.1,474.3 L349.2,477.5 L353.6,479.1 L357.6,479.1 L361.8,478.7 L366.1,476.5 L370.1,472.9 L373.9,468.4 L377.3,463.6 L380.5,458.8 L383.3,454.6 L385.8,451.3 L388.2,449.0 L390.9,448.2 L393.4,450.0 L395.8,452.7 L398.4,456.5 L401.4,461.1 L404.7,465.9 L408.3,470.7 L412.2,474.8 L416.4,477.7 L420.7,479.1 L424.7,479.2 L428.9,478.5 L433.2,476.1 L437.2,472.4 L440.9,467.9 L444.3,463.0 L447.4,458.3 L450.2,454.2 L452.7,451.0 L455.1,448.8 L457.8,448.4 L460.2,450.2 L462.7,453.1 L465.4,457.0 L468.4,461.6 L471.7,466.5 L475.3,471.2 L479.3,475.2 L483.5,478.0 L487.8,479.2 L491.8,479.2 L496.0,478.3 L500.3,475.7 L504.3,471.9 L507.9,467.3 L511.3,462.4 L514.4,457.8 L517.1,453.7 L519.6,450.6 L522.0,448.6 L524.7,448.6 L527.1,450.5 L529.6,453.6 L532.3,457.6 L535.3,462.2 L538.7,467.1 L542.4,471.7 L546.4,475.6 L550.6,478.2 L554.9,479.2 L558.9,479.2 L563.1,478.1 L567.4,475.3 L571.3,471.4 L575.0,466.7 L578.3,461.9 L581.3,457.2 L584.0,453.3 L586.5,450.3 L588.9,448.5 L591.6,448.7 L594.0,450.8 L596.5,454.0 L599.3,458.1 L602.3,462.8 L605.7,467.7 L609.4,472.2 L613.4,476.0 L617.7,478.5 L621.9,479.2 L626.0,479.2 L630.3,477.8 L634.4,474.9 L638.4,470.9 L642.0,466.1 L645.3,461.3 L648.2,456.7 L650.9,452.9 L653.3,450.1 L655.8,448.3 L658.5,448.9 L659.5,445.9 L655.5,445.8 L651.3,446.5 L647.0,448.8 L643.0,452.5 L639.2,457.0 L635.8,461.9 L632.7,466.6 L630.0,470.8 L627.4,474.0 L625.0,476.2 L622.4,476.6 L619.9,474.8 L617.5,471.9 L614.8,468.0 L611.8,463.4 L608.5,458.6 L604.8,453.9 L600.9,449.9 L596.7,447.0 L592.4,445.8 L588.4,445.8 L584.1,446.7 L579.9,449.2 L575.9,453.0 L572.2,457.6 L568.8,462.5 L565.8,467.2 L563.0,471.2 L560.6,474.3 L558.1,476.4 L555.4,476.5 L553.0,474.5 L550.5,471.5 L547.8,467.5 L544.8,462.9 L541.5,458.0 L537.8,453.4 L533.8,449.5 L529.6,446.8 L525.3,445.8 L521.3,445.8 L517.0,446.9 L512.8,449.6 L508.8,453.6 L505.2,458.2 L501.9,463.1 L498.8,467.7 L496.1,471.6 L493.7,474.6 L491.2,476.5 L488.5,476.3 L486.1,474.2 L483.6,471.1 L480.9,467.0 L477.8,462.3 L474.4,457.4 L470.7,452.8 L466.7,449.1 L462.5,446.6 L458.2,445.8 L454.2,445.8 L449.9,447.1 L445.7,450.0 L441.8,454.1 L438.2,458.8 L434.9,463.7 L431.9,468.2 L429.2,472.1 L426.8,474.9 L424.3,476.7 L421.6,476.1 L419.2,473.9 L416.7,470.6 L413.9,466.4 L410.8,461.7 L407.4,456.8 L403.7,452.3 L399.6,448.7 L395.3,446.4 L391.1,445.8 L387.1,445.9 L382.8,447.4 L378.6,450.5 L374.7,454.6 L371.2,459.4 L367.9,464.2 L365.0,468.7 L362.3,472.5 L359.9,475.2 L357.4,476.8 L354.7,475.9 L352.4,473.5 L349.8,470.2 L347.0,465.9 L343.8,461.1 L340.4,456.3 L336.6,451.9 L332.5,448.3 L328.2,446.2 L324.1,445.9 L320.0,446.0 L315.7,447.7 L311.6,450.9 L307.7,455.2 L304.2,459.9 L300.9,464.8 L298.0,469.2 L295.4,472.8 L293.0,475.4 L290.5,476.9 L287.9,475.7 L285.5,473.2 L282.9,469.7 L280.0,465.3 L276.8,460.5 L273.3,455.7 L269.5,451.4 L265.4,448.0 L261.1,446.1 L257.0,446.0 Z" fill="url(#bluew)"/>
<line x1="263" y1="510" x2="660" y2="510" stroke="#333" stroke-width="4"/>
<circle cx="290.3" cy="457" r="3.2" fill="#10c0a0"/>
<circle cx="356.9" cy="457" r="3.2" fill="#10c0a0"/>
<circle cx="423.5" cy="457" r="3.2" fill="#10c0a0"/>
<circle cx="490.1" cy="457" r="3.2" fill="#10c0a0"/>
<circle cx="556.7" cy="457" r="3.2" fill="#10c0a0"/>
<circle cx="623.3" cy="457" r="3.2" fill="#10c0a0"/>
<circle cx="701.5" cy="449.4" r="17" fill="none" stroke="#555" stroke-width="3"/>
<line x1="695" y1="449.4" x2="708" y2="449.4" stroke="#555" stroke-width="3"/>
<circle cx="701.5" cy="488.3" r="17" fill="none" stroke="#555" stroke-width="3"/>
<path d="M692,488.3 H711 M701.5,479 V497.6" stroke="#555" stroke-width="2.5"/>
<path d="M231.0,718.2 L232.6,718.5 L234.3,718.5 L236.0,718.3 L237.8,717.9 L239.5,717.3 L241.3,716.5 L243.0,715.6 L244.7,714.5 L246.4,713.3 L248.0,712.0 L249.6,710.6 L251.2,709.1 L252.7,707.5 L254.2,705.9 L255.7,704.3 L257.1,702.7 L258.5,701.1 L259.8,699.5 L261.1,698.0 L262.4,696.5 L263.6,695.1 L264.8,693.8 L265.9,692.6 L267.1,691.5 L268.2,690.5 L269.3,689.6 L270.4,688.8 L271.6,688.2 L272.8,687.6 L274.0,687.2 L275.2,687.6 L276.4,688.2 L277.6,688.8 L278.7,689.6 L279.8,690.5 L280.9,691.5 L282.1,692.6 L283.2,693.8 L284.4,695.1 L285.6,696.5 L286.9,698.0 L288.2,699.5 L289.5,701.1 L290.9,702.7 L292.3,704.3 L293.8,705.9 L295.3,707.5 L296.8,709.1 L298.4,710.6 L300.0,712.0 L301.6,713.3 L303.3,714.5 L305.0,715.6 L306.7,716.5 L308.5,717.3 L310.2,717.9 L312.0,718.3 L313.7,718.5 L315.4,718.5 L317.0,718.2 L318.6,718.5 L320.3,718.5 L322.0,718.3 L323.8,717.9 L325.5,717.3 L327.3,716.5 L329.0,715.6 L330.7,714.5 L332.4,713.3 L334.0,712.0 L335.6,710.6 L337.2,709.1 L338.7,707.5 L340.2,705.9 L341.7,704.3 L343.1,702.7 L344.5,701.1 L345.8,699.5 L347.1,698.0 L348.4,696.5 L349.6,695.1 L350.8,693.8 L351.9,692.6 L353.1,691.5 L354.2,690.5 L355.3,689.6 L356.4,688.8 L357.6,688.2 L358.8,687.6 L360.0,687.2 L361.2,687.6 L362.4,688.2 L363.6,688.8 L364.7,689.6 L365.8,690.5 L366.9,691.5 L368.1,692.6 L369.2,693.8 L370.4,695.1 L371.6,696.5 L372.9,698.0 L374.2,699.5 L375.5,701.1 L376.9,702.7 L378.3,704.3 L379.8,705.9 L381.3,707.5 L382.8,709.1 L384.4,710.6 L386.0,712.0 L387.6,713.3 L389.3,714.5 L391.0,715.6 L392.7,716.5 L394.5,717.3 L396.2,717.9 L398.0,718.3 L399.7,718.5 L401.4,718.5 L403.0,718.2 L403.0,715.8 L401.8,715.4 L400.6,714.8 L399.4,714.2 L398.3,713.4 L397.2,712.5 L396.1,711.5 L394.9,710.4 L393.8,709.2 L392.6,707.9 L391.4,706.5 L390.1,705.0 L388.8,703.5 L387.5,701.9 L386.1,700.3 L384.7,698.7 L383.2,697.1 L381.7,695.5 L380.2,693.9 L378.6,692.4 L377.0,691.0 L375.4,689.7 L373.7,688.5 L372.0,687.4 L370.3,686.5 L368.5,685.7 L366.8,685.1 L365.0,684.7 L363.3,684.5 L361.6,684.5 L360.0,684.8 L358.4,684.5 L356.7,684.5 L355.0,684.7 L353.2,685.1 L351.5,685.7 L349.7,686.5 L348.0,687.4 L346.3,688.5 L344.6,689.7 L343.0,691.0 L341.4,692.4 L339.8,693.9 L338.3,695.5 L336.8,697.1 L335.3,698.7 L333.9,700.3 L332.5,701.9 L331.2,703.5 L329.9,705.0 L328.6,706.5 L327.4,707.9 L326.2,709.2 L325.1,710.4 L323.9,711.5 L322.8,712.5 L321.7,713.4 L320.6,714.2 L319.4,714.8 L318.2,715.4 L317.0,715.8 L315.8,715.4 L314.6,714.8 L313.4,714.2 L312.3,713.4 L311.2,712.5 L310.1,711.5 L308.9,710.4 L307.8,709.2 L306.6,707.9 L305.4,706.5 L304.1,705.0 L302.8,703.5 L301.5,701.9 L300.1,700.3 L298.7,698.7 L297.2,697.1 L295.7,695.5 L294.2,693.9 L292.6,692.4 L291.0,691.0 L289.4,689.7 L287.7,688.5 L286.0,687.4 L284.3,686.5 L282.5,685.7 L280.8,685.1 L279.0,684.7 L277.3,684.5 L275.6,684.5 L274.0,684.8 L272.4,684.5 L270.7,684.5 L269.0,684.7 L267.2,685.1 L265.5,685.7 L263.7,686.5 L262.0,687.4 L260.3,688.5 L258.6,689.7 L257.0,691.0 L255.4,692.4 L253.8,693.9 L252.3,695.5 L250.8,697.1 L249.3,698.7 L247.9,700.3 L246.5,701.9 L245.2,703.5 L243.9,705.0 L242.6,706.5 L241.4,707.9 L240.2,709.2 L239.1,710.4 L237.9,711.5 L236.8,712.5 L235.7,713.4 L234.6,714.2 L233.4,714.8 L232.2,715.4 L231.0,715.8 Z" fill="url(#redw)"/>
<path d="M234.0,760.2 L235.2,760.6 L236.4,761.2 L237.5,761.8 L238.6,762.6 L239.7,763.5 L240.8,764.6 L241.9,765.7 L243.1,767.0 L244.3,768.4 L245.5,769.8 L246.7,771.4 L248.0,773.0 L249.3,774.6 L250.7,776.3 L252.1,778.1 L253.5,779.8 L255.0,781.5 L256.5,783.1 L258.1,784.7 L259.7,786.2 L261.3,787.7 L263.0,789.0 L264.7,790.2 L266.4,791.2 L268.2,792.0 L269.9,792.7 L271.7,793.2 L273.4,793.4 L275.1,793.5 L276.7,793.3 L278.3,793.4 L280.0,793.5 L281.7,793.3 L283.5,792.9 L285.2,792.3 L287.0,791.5 L288.7,790.5 L290.4,789.4 L292.1,788.1 L293.7,786.8 L295.3,785.3 L296.9,783.7 L298.4,782.1 L299.9,780.4 L301.4,778.7 L302.8,776.9 L304.2,775.2 L305.5,773.6 L306.8,771.9 L308.1,770.4 L309.3,768.9 L310.5,767.5 L311.7,766.2 L312.8,765.0 L313.9,763.9 L315.0,762.9 L316.1,762.1 L317.2,761.4 L318.4,760.8 L319.6,760.4 L320.8,760.5 L322.0,761.0 L323.1,761.6 L324.2,762.3 L325.3,763.2 L326.4,764.2 L327.5,765.3 L328.7,766.5 L329.9,767.9 L331.1,769.3 L332.3,770.8 L333.6,772.4 L334.9,774.1 L336.2,775.7 L337.6,777.5 L339.0,779.2 L340.5,780.9 L342.0,782.5 L343.6,784.2 L345.1,785.7 L346.8,787.2 L348.4,788.5 L350.1,789.8 L351.8,790.8 L353.5,791.8 L355.3,792.5 L357.1,793.0 L358.8,793.4 L360.5,793.5 L362.2,793.4 L363.8,793.4 L365.4,793.5 L367.1,793.4 L368.9,793.1 L370.6,792.5 L372.4,791.8 L374.1,790.9 L375.8,789.8 L377.5,788.6 L379.2,787.3 L380.8,785.8 L382.4,784.3 L383.9,782.6 L385.4,781.0 L386.9,779.3 L388.3,777.6 L389.7,775.8 L391.1,774.1 L392.4,772.5 L393.6,770.9 L394.9,769.4 L396.1,767.9 L397.3,766.6 L398.4,765.4 L399.5,764.3 L400.6,763.3 L401.7,762.4 L402.8,761.6 L403.9,761.0 L405.1,760.5 L404.9,757.6 L403.2,757.5 L401.5,757.7 L399.7,758.0 L398.0,758.6 L396.2,759.4 L394.5,760.3 L392.8,761.5 L391.1,762.7 L389.5,764.1 L387.9,765.5 L386.3,767.1 L384.7,768.7 L383.2,770.4 L381.8,772.1 L380.4,773.8 L379.0,775.6 L377.6,777.2 L376.3,778.9 L375.1,780.5 L373.8,782.0 L372.6,783.4 L371.5,784.7 L370.3,785.9 L369.2,787.0 L368.1,788.0 L367.0,788.8 L365.9,789.5 L364.8,790.1 L363.6,790.6 L362.3,790.6 L361.1,790.1 L360.0,789.5 L358.9,788.8 L357.8,787.9 L356.7,786.9 L355.6,785.8 L354.5,784.6 L353.3,783.3 L352.1,781.9 L350.9,780.4 L349.6,778.8 L348.3,777.1 L346.9,775.5 L345.6,773.8 L344.1,772.0 L342.7,770.3 L341.2,768.7 L339.6,767.0 L338.1,765.5 L336.4,764.0 L334.8,762.6 L333.1,761.4 L331.4,760.3 L329.7,759.3 L327.9,758.6 L326.2,758.0 L324.4,757.7 L322.7,757.5 L321.0,757.6 L319.4,757.7 L317.8,757.5 L316.1,757.6 L314.4,757.9 L312.6,758.4 L310.9,759.1 L309.1,760.0 L307.4,761.0 L305.7,762.2 L304.0,763.6 L302.4,765.0 L300.8,766.6 L299.3,768.2 L297.8,769.8 L296.3,771.5 L294.9,773.2 L293.5,775.0 L292.1,776.6 L290.8,778.3 L289.5,779.9 L288.3,781.4 L287.1,782.9 L285.9,784.2 L284.7,785.5 L283.6,786.6 L282.5,787.6 L281.4,788.5 L280.3,789.3 L279.2,789.9 L278.0,790.4 L276.8,790.7 L275.6,790.3 L274.4,789.7 L273.3,789.0 L272.2,788.2 L271.1,787.3 L270.0,786.2 L268.9,785.1 L267.7,783.8 L266.5,782.4 L265.3,780.9 L264.0,779.4 L262.8,777.7 L261.4,776.1 L260.1,774.4 L258.6,772.6 L257.2,770.9 L255.7,769.2 L254.2,767.6 L252.6,766.0 L251.0,764.5 L249.4,763.1 L247.7,761.8 L246.0,760.7 L244.3,759.7 L242.5,758.8 L240.8,758.2 L239.0,757.8 L237.3,757.5 L235.6,757.5 L234.0,757.8 Z" fill="url(#bluew)"/>
<circle cx="276.7" cy="771" r="3.2" fill="#10c0a0"/>
<circle cx="364.4" cy="771" r="3.2" fill="#10c0a0"/>
<circle cx="317.6" cy="848.8" r="11.5" fill="#f00010"/>
<text x="302.0" y="84.8" font-family="'Liberation Serif', serif" font-size="45" font-weight="normal" fill="#2a2a2a" text-anchor="start" textLength="255" lengthAdjust="spacingAndGlyphs" stroke="#2a2a2a" stroke-width="1.1">Self-assembly</text>
<text x="198.0" y="304.0" font-family="'Liberation Serif', serif" font-size="45" font-weight="normal" fill="#2a2a2a" text-anchor="start" textLength="100" lengthAdjust="spacingAndGlyphs" stroke="#2a2a2a" stroke-width="1.1">Yeast</text>
<text x="460" y="303.3" font-family="'Liberation Serif', serif" font-size="45" fill="#2a2a2a" stroke="#2a2a2a" stroke-width="1.1"><tspan textLength="116" lengthAdjust="spacingAndGlyphs">CaCO</tspan><tspan font-size="22" dy="3">3</tspan><tspan dy="-3" textLength="125" lengthAdjust="spacingAndGlyphs">-HMPs</tspan></text>
<text x="720.7" y="136.7" font-family="'Liberation Serif', serif" font-size="43" font-weight="normal" fill="#2a2a2a" text-anchor="start" textLength="136" lengthAdjust="spacingAndGlyphs" stroke="#2a2a2a" stroke-width="1.1">Calcine</text>
<text x="1081.7" y="136.7" font-family="'Liberation Serif', serif" font-size="43" font-weight="normal" fill="#2a2a2a" text-anchor="start" textLength="147" lengthAdjust="spacingAndGlyphs" stroke="#2a2a2a" stroke-width="1.1">Loading</text>
<text x="833.3" y="303.3" font-family="'Liberation Serif', serif" font-size="45" font-weight="normal" fill="#2a2a2a" text-anchor="start" textLength="243" lengthAdjust="spacingAndGlyphs" stroke="#2a2a2a" stroke-width="1.1">Microspheres</text>
<text x="1110" y="309" font-family="'Liberation Serif', serif" font-size="46" fill="#2a2a2a" stroke="#2a2a2a" stroke-width="1.1"><tspan textLength="119" lengthAdjust="spacingAndGlyphs">CaCO</tspan><tspan font-size="22" dy="3">3</tspan><tspan dy="-3" textLength="236" lengthAdjust="spacingAndGlyphs">-HMPs-DOX</tspan></text>
<text x="1021.6" y="922.7" font-family="'Liberation Serif', serif" font-size="44" font-weight="normal" fill="#2a2a2a" text-anchor="start" textLength="232" lengthAdjust="spacingAndGlyphs" stroke="#2a2a2a" stroke-width="1.1">DOX release</text>
<text x="452.0" y="710.5" font-family="'Liberation Serif', serif" font-size="42" font-weight="normal" fill="#2a2a2a" text-anchor="start" textLength="119" lengthAdjust="spacingAndGlyphs" stroke="#2a2a2a" stroke-width="1.1">PDDA</text>
<text x="452" y="788.4" font-family="'Liberation Serif', serif" font-size="42" fill="#2a2a2a" stroke="#2a2a2a" stroke-width="1.1"><tspan textLength="124" lengthAdjust="spacingAndGlyphs">PSS/Ca</tspan><tspan font-size="20" dy="-20">2+</tspan><tspan dy="20" textLength="172" lengthAdjust="spacingAndGlyphs">complex</tspan></text>
<text x="452.0" y="860.5" font-family="'Liberation Serif', serif" font-size="42" font-weight="normal" fill="#2a2a2a" text-anchor="start" textLength="95" lengthAdjust="spacingAndGlyphs" stroke="#2a2a2a" stroke-width="1.1">DOX</text>
<line x1="730.0" y1="164.0" x2="832.0" y2="164.0" stroke="#222" stroke-width="5.5"/>
<path d="M866.0,164.0 L828.0,175.0 L833.7,164.0 L828.0,153.0 Z" fill="#111"/>
<line x1="1082.0" y1="161.7" x2="1185.0" y2="161.7" stroke="#222" stroke-width="5.5"/>
<path d="M1219.0,161.7 L1181.0,172.7 L1186.7,161.7 L1181.0,150.7 Z" fill="#111"/>
<line x1="1293.3" y1="323.3" x2="1200.1" y2="472.2" stroke="#222" stroke-width="3.5"/>
<path d="M1186.3,494.2 L1194.6,464.0 L1199.8,472.6 L1209.8,473.5 Z" fill="#111"/>
<circle cx="971" cy="152.5" r="102" fill="#00c8a0"/>
<ellipse cx="1019.6" cy="183.1" rx="5.8" ry="6.6" transform="rotate(32.2 1019.6 183.1)" fill="#006e48"/>
<ellipse cx="1001.3" cy="172.3" rx="6.3" ry="6.6" transform="rotate(33.1 1001.3 172.3)" fill="#006e48"/>
<ellipse cx="1009.0" cy="202.5" rx="5.6" ry="6.6" transform="rotate(52.7 1009.0 202.5)" fill="#006e48"/>
<ellipse cx="1026.2" cy="163.4" rx="5.8" ry="6.6" transform="rotate(11.2 1026.2 163.4)" fill="#006e48"/>
<ellipse cx="983.8" cy="186.6" rx="6.3" ry="6.6" transform="rotate(69.4 983.8 186.6)" fill="#006e48"/>
<ellipse cx="1030.5" cy="197.5" rx="5.1" ry="6.6" transform="rotate(37.1 1030.5 197.5)" fill="#006e48"/>
<ellipse cx="1005.3" cy="150.4" rx="6.3" ry="6.6" transform="rotate(-3.5 1005.3 150.4)" fill="#006e48"/>
<ellipse cx="988.9" cy="211.5" rx="5.7" ry="6.6" transform="rotate(73.1 988.9 211.5)" fill="#006e48"/>
<ellipse cx="1042.2" cy="168.2" rx="5.2" ry="6.6" transform="rotate(12.5 1042.2 168.2)" fill="#006e48"/>
<ellipse cx="976.0" cy="165.8" rx="6.6" ry="6.6" transform="rotate(69.4 976.0 165.8)" fill="#006e48"/>
<ellipse cx="1018.1" cy="216.6" rx="4.7" ry="6.6" transform="rotate(53.7 1018.1 216.6)" fill="#006e48"/>
<ellipse cx="1024.6" cy="139.7" rx="5.9" ry="6.6" transform="rotate(-13.4 1024.6 139.7)" fill="#006e48"/>
<ellipse cx="967.3" cy="201.5" rx="6.0" ry="6.6" transform="rotate(94.3 967.3 201.5)" fill="#006e48"/>
<ellipse cx="1046.7" cy="189.0" rx="4.4" ry="6.6" transform="rotate(25.8 1046.7 189.0)" fill="#006e48"/>
<ellipse cx="985.6" cy="140.6" rx="6.5" ry="6.6" transform="rotate(-39.1 985.6 140.6)" fill="#006e48"/>
<ellipse cx="992.5" cy="226.6" rx="4.9" ry="6.6" transform="rotate(73.9 992.5 226.6)" fill="#006e48"/>
<ellipse cx="1045.6" cy="146.3" rx="5.0" ry="6.6" transform="rotate(-4.7 1045.6 146.3)" fill="#006e48"/>
<ellipse cx="956.4" cy="176.0" rx="6.4" ry="6.6" transform="rotate(121.9 956.4 176.0)" fill="#006e48"/>
<ellipse cx="1034.0" cy="214.8" rx="3.9" ry="6.6" transform="rotate(44.7 1034.0 214.8)" fill="#006e48"/>
<ellipse cx="1009.1" cy="123.9" rx="6.1" ry="6.6" transform="rotate(-36.9 1009.1 123.9)" fill="#006e48"/>
<ellipse cx="963.9" cy="219.3" rx="5.4" ry="6.6" transform="rotate(96.1 963.9 219.3)" fill="#006e48"/>
<ellipse cx="1056.8" cy="169.5" rx="4.0" ry="6.6" transform="rotate(11.2 1056.8 169.5)" fill="#006e48"/>
<ellipse cx="962.8" cy="144.0" rx="6.6" ry="6.6" transform="rotate(-134.0 962.8 144.0)" fill="#006e48"/>
<ellipse cx="1006.1" cy="233.2" rx="4.0" ry="6.6" transform="rotate(66.5 1006.1 233.2)" fill="#006e48"/>
<ellipse cx="1037.3" cy="124.6" rx="5.2" ry="6.6" transform="rotate(-22.9 1037.3 124.6)" fill="#006e48"/>
<ellipse cx="944.2" cy="194.1" rx="6.0" ry="6.6" transform="rotate(122.8 944.2 194.1)" fill="#006e48"/>
<ellipse cx="1050.2" cy="201.2" rx="3.2" ry="6.6" transform="rotate(31.6 1050.2 201.2)" fill="#006e48"/>
<ellipse cx="986.1" cy="117.6" rx="6.3" ry="6.6" transform="rotate(-66.5 986.1 117.6)" fill="#006e48"/>
<ellipse cx="971.3" cy="234.5" rx="4.6" ry="6.6" transform="rotate(89.8 971.3 234.5)" fill="#006e48"/>
<ellipse cx="1058.2" cy="144.7" rx="4.0" ry="6.6" transform="rotate(-5.1 1058.2 144.7)" fill="#006e48"/>
<ellipse cx="942.2" cy="157.7" rx="6.4" ry="6.6" transform="rotate(169.8 942.2 157.7)" fill="#006e48"/>
<ellipse cx="1025.0" cy="229.5" rx="2.9" ry="6.6" transform="rotate(55.0 1025.0 229.5)" fill="#006e48"/>
<ellipse cx="1019.0" cy="107.8" rx="5.5" ry="6.6" transform="rotate(-42.9 1019.0 107.8)" fill="#006e48"/>
<ellipse cx="941.6" cy="214.9" rx="5.4" ry="6.6" transform="rotate(115.2 941.6 214.9)" fill="#006e48"/>
<ellipse cx="1062.0" cy="178.8" rx="2.8" ry="6.6" transform="rotate(16.1 1062.0 178.8)" fill="#006e48"/>
<ellipse cx="960.3" cy="122.0" rx="6.4" ry="6.6" transform="rotate(-109.3 960.3 122.0)" fill="#006e48"/>
<ellipse cx="987.4" cy="242.6" rx="3.5" ry="6.6" transform="rotate(79.7 987.4 242.6)" fill="#006e48"/>
<ellipse cx="1049.6" cy="119.8" rx="4.3" ry="6.6" transform="rotate(-22.6 1049.6 119.8)" fill="#006e48"/>
<ellipse cx="927.9" cy="178.6" rx="6.0" ry="6.6" transform="rotate(148.8 927.9 178.6)" fill="#006e48"/>
<ellipse cx="1044.4" cy="215.3" rx="2.3" ry="6.6" transform="rotate(40.6 1044.4 215.3)" fill="#006e48"/>
<ellipse cx="993.7" cy="99.6" rx="5.8" ry="6.6" transform="rotate(-66.8 993.7 99.6)" fill="#006e48"/>
<ellipse cx="949.1" cy="233.4" rx="4.4" ry="6.6" transform="rotate(105.1 949.1 233.4)" fill="#006e48"/>
<ellipse cx="1065.7" cy="151.1" rx="2.7" ry="6.6" transform="rotate(-0.8 1065.7 151.1)" fill="#006e48"/>
<ellipse cx="936.2" cy="136.3" rx="6.3" ry="6.6" transform="rotate(-155.0 936.2 136.3)" fill="#006e48"/>
<ellipse cx="1008.8" cy="241.0" rx="2.3" ry="6.6" transform="rotate(66.9 1008.8 241.0)" fill="#006e48"/>
<ellipse cx="1031.2" cy="99.4" rx="4.7" ry="6.6" transform="rotate(-41.4 1031.2 99.4)" fill="#006e48"/>
<ellipse cx="922.8" cy="202.5" rx="5.3" ry="6.6" transform="rotate(133.9 922.8 202.5)" fill="#006e48"/>
<ellipse cx="965.0" cy="101.8" rx="6.0" ry="6.6" transform="rotate(-96.8 965.0 101.8)" fill="#006e48"/>
<ellipse cx="965.5" cy="245.5" rx="3.2" ry="6.6" transform="rotate(93.4 965.5 245.5)" fill="#006e48"/>
<ellipse cx="1059.6" cy="122.7" rx="3.1" ry="6.6" transform="rotate(-18.6 1059.6 122.7)" fill="#006e48"/>
<ellipse cx="918.0" cy="158.3" rx="5.9" ry="6.6" transform="rotate(173.7 918.0 158.3)" fill="#006e48"/>
<ellipse cx="1005.1" cy="87.1" rx="5.1" ry="6.6" transform="rotate(-62.4 1005.1 87.1)" fill="#006e48"/>
<ellipse cx="928.0" cy="225.0" rx="4.4" ry="6.6" transform="rotate(120.7 928.0 225.0)" fill="#006e48"/>
<ellipse cx="937.1" cy="114.5" rx="6.0" ry="6.6" transform="rotate(-131.7 937.1 114.5)" fill="#006e48"/>
<ellipse cx="988.2" cy="248.0" rx="2.3" ry="6.6" transform="rotate(79.8 988.2 248.0)" fill="#006e48"/>
<ellipse cx="1043.3" cy="97.8" rx="3.6" ry="6.6" transform="rotate(-37.1 1043.3 97.8)" fill="#006e48"/>
<ellipse cx="908.7" cy="184.5" rx="5.3" ry="6.6" transform="rotate(152.8 908.7 184.5)" fill="#006e48"/>
<ellipse cx="974.6" cy="85.2" rx="5.4" ry="6.6" transform="rotate(-86.9 974.6 85.2)" fill="#006e48"/>
<ellipse cx="942.9" cy="241.8" rx="3.0" ry="6.6" transform="rotate(107.5 942.9 241.8)" fill="#006e48"/>
<ellipse cx="1065.9" cy="131.5" rx="2.3" ry="6.6" transform="rotate(-12.5 1065.9 131.5)" fill="#006e48"/>
<ellipse cx="914.3" cy="135.9" rx="5.8" ry="6.6" transform="rotate(-163.6 914.3 135.9)" fill="#006e48"/>
<ellipse cx="1018.2" cy="80.5" rx="4.2" ry="6.6" transform="rotate(-56.8 1018.2 80.5)" fill="#006e48"/>
<ellipse cx="909.9" cy="210.5" rx="4.4" ry="6.6" transform="rotate(136.5 909.9 210.5)" fill="#006e48"/>
<ellipse cx="943.6" cy="94.4" rx="5.6" ry="6.6" transform="rotate(-115.2 943.6 94.4)" fill="#006e48"/>
<ellipse cx="1053.2" cy="102.5" rx="2.3" ry="6.6" transform="rotate(-31.3 1053.2 102.5)" fill="#006e48"/>
<ellipse cx="899.9" cy="162.9" rx="5.2" ry="6.6" transform="rotate(171.7 899.9 162.9)" fill="#006e48"/>
<ellipse cx="987.3" cy="73.4" rx="4.7" ry="6.6" transform="rotate(-78.4 987.3 73.4)" fill="#006e48"/>
<ellipse cx="921.5" cy="232.1" rx="3.0" ry="6.6" transform="rotate(121.9 921.5 232.1)" fill="#006e48"/>
<ellipse cx="916.5" cy="113.4" rx="5.4" ry="6.6" transform="rotate(-144.4 916.5 113.4)" fill="#006e48"/>
<ellipse cx="1030.8" cy="80.0" rx="3.0" ry="6.6" transform="rotate(-50.5 1030.8 80.0)" fill="#006e48"/>
<ellipse cx="896.0" cy="191.3" rx="4.3" ry="6.6" transform="rotate(152.6 896.0 191.3)" fill="#006e48"/>
<ellipse cx="954.3" cy="77.7" rx="4.9" ry="6.6" transform="rotate(-102.6 954.3 77.7)" fill="#006e48"/>
<ellipse cx="896.8" cy="139.6" rx="5.0" ry="6.6" transform="rotate(-170.1 896.8 139.6)" fill="#006e48"/>
<ellipse cx="1001.1" cy="67.1" rx="3.6" ry="6.6" transform="rotate(-70.6 1001.1 67.1)" fill="#006e48"/>
<ellipse cx="903.0" cy="216.8" rx="3.1" ry="6.6" transform="rotate(136.6 903.0 216.8)" fill="#006e48"/>
<ellipse cx="923.6" cy="92.8" rx="5.0" ry="6.6" transform="rotate(-128.4 923.6 92.8)" fill="#006e48"/>
<ellipse cx="887.2" cy="169.0" rx="4.3" ry="6.6" transform="rotate(168.9 887.2 169.0)" fill="#006e48"/>
<ellipse cx="967.6" cy="65.7" rx="4.1" ry="6.6" transform="rotate(-92.3 967.6 65.7)" fill="#006e48"/>
<ellipse cx="899.1" cy="116.5" rx="4.7" ry="6.6" transform="rotate(-153.4 899.1 116.5)" fill="#006e48"/>
<ellipse cx="1014.2" cy="66.6" rx="2.3" ry="6.6" transform="rotate(-63.3 1014.2 66.6)" fill="#006e48"/>
<ellipse cx="888.8" cy="197.3" rx="3.1" ry="6.6" transform="rotate(151.4 888.8 197.3)" fill="#006e48"/>
<ellipse cx="934.6" cy="75.7" rx="4.3" ry="6.6" transform="rotate(-115.4 934.6 75.7)" fill="#006e48"/>
<ellipse cx="883.9" cy="145.3" rx="4.0" ry="6.6" transform="rotate(-175.3 883.9 145.3)" fill="#006e48"/>
<ellipse cx="981.7" cy="59.1" rx="3.0" ry="6.6" transform="rotate(-83.4 981.7 59.1)" fill="#006e48"/>
<ellipse cx="906.2" cy="95.5" rx="4.2" ry="6.6" transform="rotate(-138.7 906.2 95.5)" fill="#006e48"/>
<ellipse cx="879.7" cy="174.9" rx="3.0" ry="6.6" transform="rotate(166.2 879.7 174.9)" fill="#006e48"/>
<ellipse cx="947.9" cy="63.3" rx="3.4" ry="6.6" transform="rotate(-104.5 947.9 63.3)" fill="#006e48"/>
<ellipse cx="886.0" cy="122.1" rx="3.7" ry="6.6" transform="rotate(-160.4 886.0 122.1)" fill="#006e48"/>
<ellipse cx="916.9" cy="78.2" rx="3.4" ry="6.6" transform="rotate(-126.0 916.9 78.2)" fill="#006e48"/>
<ellipse cx="876.1" cy="151.4" rx="2.7" ry="6.6" transform="rotate(-179.3 876.1 151.4)" fill="#006e48"/>
<ellipse cx="961.9" cy="56.4" rx="2.3" ry="6.6" transform="rotate(-95.4 961.9 56.4)" fill="#006e48"/>
<ellipse cx="892.7" cy="101.2" rx="3.0" ry="6.6" transform="rotate(-146.8 892.7 101.2)" fill="#006e48"/>
<ellipse cx="929.8" cy="65.8" rx="2.3" ry="6.6" transform="rotate(-115.4 929.8 65.8)" fill="#006e48"/>
<ellipse cx="877.8" cy="128.6" rx="2.3" ry="6.6" transform="rotate(-165.6 877.8 128.6)" fill="#006e48"/>
<ellipse cx="902.9" cy="84.3" rx="2.3" ry="6.6" transform="rotate(-134.9 902.9 84.3)" fill="#006e48"/>
<circle cx="1002.8" cy="171.3" r="3.0" fill="#f4fff8"/>
<circle cx="985.3" cy="185.6" r="3.0" fill="#f4fff8"/>
<circle cx="1006.8" cy="149.4" r="2.3" fill="#f4fff8"/>
<circle cx="977.5" cy="164.8" r="3.4" fill="#f4fff8"/>
<circle cx="968.8" cy="200.5" r="2.5" fill="#f4fff8"/>
<circle cx="957.9" cy="175.0" r="3.4" fill="#f4fff8"/>
<circle cx="1010.6" cy="122.9" r="3.1" fill="#f4fff8"/>
<circle cx="964.3" cy="143.0" r="3.1" fill="#f4fff8"/>
<circle cx="987.6" cy="116.6" r="3.2" fill="#f4fff8"/>
<circle cx="943.7" cy="156.7" r="2.3" fill="#f4fff8"/>
<circle cx="937.7" cy="135.3" r="2.6" fill="#f4fff8"/>
<circle cx="1156" cy="74" r="13" fill="#ee0010"/>
<circle cx="1341" cy="153" r="111.5" fill="#00c8a0"/>
<ellipse cx="1364.1" cy="232.9" rx="5.2" ry="7.0" transform="rotate(73.9 1364.1 232.9)" fill="#006e48"/>
<ellipse cx="1325.2" cy="178.3" rx="6.8" ry="7.0" transform="rotate(121.9 1325.2 178.3)" fill="#006e48"/>
<ellipse cx="1333.4" cy="225.1" rx="5.8" ry="7.0" transform="rotate(96.1 1333.4 225.1)" fill="#006e48"/>
<ellipse cx="1332.1" cy="143.8" rx="7.0" ry="7.0" transform="rotate(-134.0 1332.1 143.8)" fill="#006e48"/>
<ellipse cx="1378.9" cy="240.0" rx="4.2" ry="7.0" transform="rotate(66.5 1378.9 240.0)" fill="#006e48"/>
<ellipse cx="1312.1" cy="197.9" rx="6.4" ry="7.0" transform="rotate(122.8 1312.1 197.9)" fill="#006e48"/>
<ellipse cx="1341.4" cy="241.4" rx="4.8" ry="7.0" transform="rotate(89.8 1341.4 241.4)" fill="#006e48"/>
<ellipse cx="1309.9" cy="158.6" rx="6.8" ry="7.0" transform="rotate(169.8 1309.9 158.6)" fill="#006e48"/>
<ellipse cx="1399.2" cy="236.1" rx="3.1" ry="7.0" transform="rotate(55.0 1399.2 236.1)" fill="#006e48"/>
<ellipse cx="1309.3" cy="220.3" rx="5.7" ry="7.0" transform="rotate(115.2 1309.3 220.3)" fill="#006e48"/>
<ellipse cx="1439.1" cy="181.3" rx="2.9" ry="7.0" transform="rotate(16.1 1439.1 181.3)" fill="#006e48"/>
<ellipse cx="1329.5" cy="120.1" rx="6.8" ry="7.0" transform="rotate(-109.3 1329.5 120.1)" fill="#006e48"/>
<ellipse cx="1358.7" cy="250.2" rx="3.7" ry="7.0" transform="rotate(79.7 1358.7 250.2)" fill="#006e48"/>
<ellipse cx="1294.5" cy="181.1" rx="6.4" ry="7.0" transform="rotate(148.8 1294.5 181.1)" fill="#006e48"/>
<ellipse cx="1317.4" cy="240.2" rx="4.7" ry="7.0" transform="rotate(105.1 1317.4 240.2)" fill="#006e48"/>
<ellipse cx="1443.2" cy="151.5" rx="2.9" ry="7.0" transform="rotate(-0.8 1443.2 151.5)" fill="#006e48"/>
<ellipse cx="1303.5" cy="135.5" rx="6.7" ry="7.0" transform="rotate(-155.0 1303.5 135.5)" fill="#006e48"/>
<ellipse cx="1381.8" cy="248.5" rx="2.4" ry="7.0" transform="rotate(66.9 1381.8 248.5)" fill="#006e48"/>
<ellipse cx="1289.1" cy="206.9" rx="5.7" ry="7.0" transform="rotate(133.9 1289.1 206.9)" fill="#006e48"/>
<ellipse cx="1334.5" cy="98.3" rx="6.4" ry="7.0" transform="rotate(-96.8 1334.5 98.3)" fill="#006e48"/>
<ellipse cx="1335.1" cy="253.2" rx="3.4" ry="7.0" transform="rotate(93.4 1335.1 253.2)" fill="#006e48"/>
<ellipse cx="1283.9" cy="159.3" rx="6.3" ry="7.0" transform="rotate(173.7 1283.9 159.3)" fill="#006e48"/>
<ellipse cx="1294.6" cy="231.2" rx="4.6" ry="7.0" transform="rotate(120.7 1294.6 231.2)" fill="#006e48"/>
<ellipse cx="1304.5" cy="112.0" rx="6.4" ry="7.0" transform="rotate(-131.7 1304.5 112.0)" fill="#006e48"/>
<ellipse cx="1359.5" cy="256.0" rx="2.4" ry="7.0" transform="rotate(79.8 1359.5 256.0)" fill="#006e48"/>
<ellipse cx="1273.8" cy="187.5" rx="5.6" ry="7.0" transform="rotate(152.8 1273.8 187.5)" fill="#006e48"/>
<ellipse cx="1310.7" cy="249.3" rx="3.2" ry="7.0" transform="rotate(107.5 1310.7 249.3)" fill="#006e48"/>
<ellipse cx="1443.3" cy="130.3" rx="2.4" ry="7.0" transform="rotate(-12.5 1443.3 130.3)" fill="#006e48"/>
<ellipse cx="1279.9" cy="135.1" rx="6.1" ry="7.0" transform="rotate(-163.6 1279.9 135.1)" fill="#006e48"/>
<ellipse cx="1275.1" cy="215.6" rx="4.6" ry="7.0" transform="rotate(136.5 1275.1 215.6)" fill="#006e48"/>
<ellipse cx="1311.5" cy="90.3" rx="5.9" ry="7.0" transform="rotate(-115.2 1311.5 90.3)" fill="#006e48"/>
<ellipse cx="1264.3" cy="164.2" rx="5.5" ry="7.0" transform="rotate(171.7 1264.3 164.2)" fill="#006e48"/>
<ellipse cx="1358.5" cy="67.7" rx="4.9" ry="7.0" transform="rotate(-78.4 1358.5 67.7)" fill="#006e48"/>
<ellipse cx="1287.6" cy="238.8" rx="3.2" ry="7.0" transform="rotate(121.9 1287.6 238.8)" fill="#006e48"/>
<ellipse cx="1282.2" cy="110.8" rx="5.8" ry="7.0" transform="rotate(-144.4 1282.2 110.8)" fill="#006e48"/>
<ellipse cx="1260.1" cy="194.9" rx="4.6" ry="7.0" transform="rotate(152.6 1260.1 194.9)" fill="#006e48"/>
<ellipse cx="1323.0" cy="72.3" rx="5.2" ry="7.0" transform="rotate(-102.6 1323.0 72.3)" fill="#006e48"/>
<ellipse cx="1261.0" cy="139.1" rx="5.3" ry="7.0" transform="rotate(-170.1 1261.0 139.1)" fill="#006e48"/>
<ellipse cx="1373.4" cy="60.9" rx="3.9" ry="7.0" transform="rotate(-70.6 1373.4 60.9)" fill="#006e48"/>
<ellipse cx="1267.7" cy="222.4" rx="3.2" ry="7.0" transform="rotate(136.6 1267.7 222.4)" fill="#006e48"/>
<ellipse cx="1289.9" cy="88.6" rx="5.3" ry="7.0" transform="rotate(-128.4 1289.9 88.6)" fill="#006e48"/>
<ellipse cx="1250.6" cy="170.8" rx="4.5" ry="7.0" transform="rotate(168.9 1250.6 170.8)" fill="#006e48"/>
<ellipse cx="1337.3" cy="59.4" rx="4.3" ry="7.0" transform="rotate(-92.3 1337.3 59.4)" fill="#006e48"/>
<ellipse cx="1263.5" cy="114.2" rx="5.0" ry="7.0" transform="rotate(-153.4 1263.5 114.2)" fill="#006e48"/>
<ellipse cx="1387.6" cy="60.4" rx="2.4" ry="7.0" transform="rotate(-63.3 1387.6 60.4)" fill="#006e48"/>
<ellipse cx="1252.4" cy="201.3" rx="3.2" ry="7.0" transform="rotate(151.4 1252.4 201.3)" fill="#006e48"/>
<ellipse cx="1301.7" cy="70.2" rx="4.6" ry="7.0" transform="rotate(-115.4 1301.7 70.2)" fill="#006e48"/>
<ellipse cx="1247.1" cy="145.3" rx="4.3" ry="7.0" transform="rotate(-175.3 1247.1 145.3)" fill="#006e48"/>
<ellipse cx="1352.6" cy="52.3" rx="3.1" ry="7.0" transform="rotate(-83.4 1352.6 52.3)" fill="#006e48"/>
<ellipse cx="1271.1" cy="91.6" rx="4.4" ry="7.0" transform="rotate(-138.7 1271.1 91.6)" fill="#006e48"/>
<ellipse cx="1242.5" cy="177.2" rx="3.1" ry="7.0" transform="rotate(166.2 1242.5 177.2)" fill="#006e48"/>
<ellipse cx="1316.1" cy="56.8" rx="3.6" ry="7.0" transform="rotate(-104.5 1316.1 56.8)" fill="#006e48"/>
<ellipse cx="1249.3" cy="120.3" rx="3.9" ry="7.0" transform="rotate(-160.4 1249.3 120.3)" fill="#006e48"/>
<ellipse cx="1282.7" cy="72.9" rx="3.6" ry="7.0" transform="rotate(-126.0 1282.7 72.9)" fill="#006e48"/>
<ellipse cx="1238.6" cy="151.8" rx="2.9" ry="7.0" transform="rotate(-179.3 1238.6 151.8)" fill="#006e48"/>
<ellipse cx="1331.1" cy="49.4" rx="2.4" ry="7.0" transform="rotate(-95.4 1331.1 49.4)" fill="#006e48"/>
<ellipse cx="1256.5" cy="97.7" rx="3.2" ry="7.0" transform="rotate(-146.8 1256.5 97.7)" fill="#006e48"/>
<ellipse cx="1296.6" cy="59.5" rx="2.4" ry="7.0" transform="rotate(-115.4 1296.6 59.5)" fill="#006e48"/>
<ellipse cx="1240.5" cy="127.3" rx="2.4" ry="7.0" transform="rotate(-165.6 1240.5 127.3)" fill="#006e48"/>
<ellipse cx="1267.6" cy="79.4" rx="2.4" ry="7.0" transform="rotate(-134.9 1267.6 79.4)" fill="#006e48"/>
<path d="M1336.0,72.0 C1342.8,66.5 1362.7,61.0 1375.0,62.0 C1387.3,63.0 1400.5,70.3 1410.0,78.0 C1419.5,85.7 1427.7,96.0 1432.0,108.0 C1436.3,120.0 1436.7,135.5 1436.0,150.0 C1435.3,164.5 1434.0,183.7 1428.0,195.0 C1422.0,206.3 1411.0,213.5 1400.0,218.0 C1389.0,222.5 1371.2,224.0 1362.0,222.0 C1352.8,220.0 1347.0,213.0 1345.0,206.0 C1343.0,199.0 1348.8,189.3 1350.0,180.0 C1351.2,170.7 1353.0,159.7 1352.0,150.0 C1351.0,140.3 1347.0,131.2 1344.0,122.0 C1341.0,112.8 1335.3,103.3 1334.0,95.0 C1332.7,86.7 1329.2,77.5 1336.0,72.0 Z" fill="#00805a"/>
<circle cx="1348" cy="122" r="4" fill="#e8fff4"/>
<circle cx="1352" cy="143" r="4" fill="#e8fff4"/>
<circle cx="1372" cy="158" r="4" fill="#e8fff4"/>
<circle cx="1390" cy="176" r="4" fill="#e8fff4"/>
<circle cx="1372" cy="205" r="4" fill="#e8fff4"/>
<circle cx="1395" cy="100" r="4" fill="#e8fff4"/>
<circle cx="1400" cy="210" r="4" fill="#e8fff4"/>
<circle cx="1372.7" cy="75.2" r="5.8" fill="#f00010"/>
<circle cx="1340" cy="89.2" r="5.8" fill="#f00010"/>
<circle cx="1367.3" cy="102.5" r="5.8" fill="#f00010"/>
<circle cx="1388.3" cy="109.5" r="5.8" fill="#f00010"/>
<circle cx="1407.8" cy="117.3" r="5.8" fill="#f00010"/>
<circle cx="1359.5" cy="117.3" r="5.8" fill="#f00010"/>
<circle cx="1312" cy="122.7" r="5.8" fill="#f00010"/>
<circle cx="1345.5" cy="130.5" r="5.8" fill="#f00010"/>
<circle cx="1376.6" cy="130.5" r="5.8" fill="#f00010"/>
<circle cx="1392.2" cy="145.3" r="5.8" fill="#f00010"/>
<circle cx="1417.1" cy="146.1" r="5.8" fill="#f00010"/>
<circle cx="1368" cy="152.3" r="5.8" fill="#f00010"/>
<circle cx="1350" cy="158.6" r="5.8" fill="#f00010"/>
<circle cx="1423.4" cy="166.4" r="5.8" fill="#f00010"/>
<circle cx="1379" cy="171" r="5.8" fill="#f00010"/>
<circle cx="1396" cy="171.8" r="5.8" fill="#f00010"/>
<circle cx="1356.4" cy="186.6" r="5.8" fill="#f00010"/>
<circle cx="1379.7" cy="189.7" r="5.8" fill="#f00010"/>
<circle cx="1413.2" cy="192.8" r="5.8" fill="#f00010"/>
<circle cx="1400.8" cy="211.5" r="5.8" fill="#f00010"/>
<circle cx="1362.6" cy="218.6" r="5.8" fill="#f00010"/>
<circle cx="1290" cy="147.7" r="2.5" fill="#c02020"/>
<circle cx="1323.6" cy="150.8" r="2.5" fill="#c02020"/>
<circle cx="1302.6" cy="177.3" r="2.5" fill="#c02020"/>
<path d="M869.6,802.7 C868.8,798.5 869.6,796.6 872.0,790.6 C874.4,784.6 881.2,773.4 884.0,766.6 C886.8,759.8 886.8,758.4 888.8,750.0 C890.8,741.6 893.2,727.2 896.0,716.0 C898.8,704.8 901.6,693.0 905.6,682.6 C909.6,672.2 914.4,661.7 920.0,653.7 C925.6,645.7 931.3,640.5 939.3,634.5 C947.3,628.5 957.2,622.7 968.0,617.7 C978.8,612.7 993.2,607.9 1004.0,604.5 C1014.8,601.1 1026.3,598.0 1033.0,597.3 C1039.7,596.5 1040.8,598.4 1044.0,600.0 C1047.2,601.6 1047.7,602.7 1052.0,607.0 C1056.3,611.3 1064.7,620.5 1070.0,626.0 C1075.3,631.5 1079.0,637.3 1084.0,640.0 C1089.0,642.7 1094.0,643.0 1100.0,642.0 C1106.0,641.0 1113.2,636.5 1120.0,634.0 C1126.8,631.5 1136.5,630.0 1141.0,627.3 C1145.5,624.6 1146.2,623.2 1147.0,618.0 C1147.8,612.8 1146.8,602.9 1146.0,596.0 C1145.2,589.1 1142.7,583.2 1142.0,576.9 C1141.3,570.6 1140.3,562.6 1142.0,558.0 C1143.7,553.4 1146.3,551.8 1152.0,549.5 C1157.7,547.2 1166.0,547.4 1176.0,544.4 C1186.0,541.4 1200.0,535.2 1212.0,531.2 C1224.0,527.2 1237.7,522.6 1248.1,520.4 C1258.5,518.2 1264.5,517.4 1274.5,518.0 C1284.5,518.6 1296.6,521.0 1308.2,524.0 C1319.8,527.0 1334.2,531.6 1344.2,536.0 C1354.2,540.4 1360.2,544.4 1368.2,550.4 C1376.2,556.4 1384.3,564.1 1392.3,572.0 C1400.3,579.9 1409.8,588.8 1416.3,598.0 C1422.8,607.2 1426.6,615.6 1431.0,627.3 C1435.4,639.0 1439.6,654.4 1442.7,668.2 C1445.8,682.0 1448.6,698.4 1449.5,710.0 C1450.4,721.6 1450.9,730.8 1448.0,738.0 C1445.1,745.2 1443.3,747.4 1432.0,753.0 C1420.7,758.6 1396.8,764.8 1380.2,771.5 C1363.6,778.2 1348.2,786.3 1332.2,793.1 C1316.2,799.9 1300.1,805.9 1284.1,812.3 C1268.1,818.7 1249.3,826.9 1236.1,831.5 C1222.9,836.1 1215.2,838.6 1205.0,840.0 C1194.8,841.4 1184.2,839.0 1175.0,840.0 C1165.8,841.0 1158.5,843.8 1150.0,846.0 C1141.5,848.2 1138.5,851.0 1124.2,853.0 C1109.9,855.0 1084.2,857.6 1064.2,858.0 C1044.2,858.4 1024.0,857.5 1004.0,855.5 C984.0,853.5 961.7,850.2 944.0,846.0 C926.3,841.8 909.2,835.0 898.0,830.0 C886.8,825.0 881.5,820.5 876.8,816.0 C872.1,811.5 870.4,806.9 869.6,802.7 Z" fill="#d3bca2" stroke="#2e2e2e" stroke-width="4.5" stroke-linejoin="round"/>
<circle cx="1010" cy="675.4" r="36" fill="#f6f6f4" stroke="#6a6460" stroke-width="3"/>
<circle cx="1006.5" cy="656" r="10.5" fill="#1a8a60"/>
<circle cx="1007.5" cy="657" r="4.5" fill="#6a5a3a"/>
<circle cx="994.5" cy="680" r="10.5" fill="#1a8a60"/>
<circle cx="995.5" cy="681" r="4.5" fill="#6a5a3a"/>
<circle cx="1021" cy="680" r="10.5" fill="#1a8a60"/>
<circle cx="1022" cy="681" r="4.5" fill="#6a5a3a"/>
<circle cx="1117" cy="725.8" r="43" fill="#f6f6f4" stroke="#3a3a3a" stroke-width="4"/>
<circle cx="1119.4" cy="704.2" r="12" fill="#00ad82"/>
<circle cx="1103.8" cy="733" r="12" fill="#00ad82"/>
<circle cx="1136.2" cy="733" r="12" fill="#00ad82"/>
<circle cx="1108.6" cy="568.5" r="10.5" fill="#1a8a60"/>
<circle cx="1109.6" cy="569.5" r="4.5" fill="#6a5a3a"/>
<circle cx="1089.4" cy="592.5" r="10.5" fill="#1a8a60"/>
<circle cx="1090.4" cy="593.5" r="4.5" fill="#6a5a3a"/>
<circle cx="1121.8" cy="597.3" r="10.5" fill="#1a8a60"/>
<circle cx="1122.8" cy="598.3" r="4.5" fill="#6a5a3a"/>
<circle cx="1143.4" cy="661" r="4.2" fill="#e00010"/>
<circle cx="1131.4" cy="674" r="4.2" fill="#e00010"/>
<circle cx="1154.3" cy="675.4" r="4.2" fill="#e00010"/>
<path d="M1160.4,685 C1170,712 1200,722 1222,719 C1232,717 1240,712 1244,708" fill="none" stroke="#555" stroke-width="2.5"/>
<path d="M1259.8,626.8 A82.5,82.5 0 0 0 1221.2,666.1" fill="none" stroke="#dcc28e" stroke-width="9"/>
<path d="M1261.8,630.9 A78,78 0 0 0 1225.3,668.0" fill="none" stroke="#c29c58" stroke-width="3.5"/>
<path d="M1257.9,622.8 A87,87 0 0 0 1217.2,664.2" fill="none" stroke="#c29c58" stroke-width="3.5"/>
<path d="M1217.5,726.5 A82.5,82.5 0 0 0 1252.3,771.0" fill="none" stroke="#dcc28e" stroke-width="9"/>
<path d="M1221.8,725.1 A78,78 0 0 0 1254.7,767.1" fill="none" stroke="#c29c58" stroke-width="3.5"/>
<path d="M1213.3,727.9 A87,87 0 0 0 1249.9,774.8" fill="none" stroke="#c29c58" stroke-width="3.5"/>
<path d="M1347.4,638.2 A80,80 0 0 1 1347.4,760.8" fill="none" stroke="#7d776b" stroke-width="7.5" stroke-linecap="round"/>
<path d="M1347.4,638.2 A80,80 0 0 1 1347.4,760.8" fill="none" stroke="#cdc8bc" stroke-width="2.5" stroke-linecap="round"/>
<path d="M1359.6,635.9 A90,90 0 0 1 1359.6,763.1" fill="none" stroke="#7d776b" stroke-width="7.5" stroke-linecap="round"/>
<path d="M1359.6,635.9 A90,90 0 0 1 1359.6,763.1" fill="none" stroke="#cdc8bc" stroke-width="2.5" stroke-linecap="round"/>
<path d="M1372.6,635.2 A100,100 0 0 1 1372.6,763.8" fill="none" stroke="#7d776b" stroke-width="7.5" stroke-linecap="round"/>
<path d="M1372.6,635.2 A100,100 0 0 1 1372.6,763.8" fill="none" stroke="#cdc8bc" stroke-width="2.5" stroke-linecap="round"/>
<path d="M1385.0,634.8 A110,110 0 0 1 1385.0,764.2" fill="none" stroke="#7d776b" stroke-width="7.5" stroke-linecap="round"/>
<path d="M1385.0,634.8 A110,110 0 0 1 1385.0,764.2" fill="none" stroke="#cdc8bc" stroke-width="2.5" stroke-linecap="round"/>
<path d="M1397.8,635.9 A120,120 0 0 1 1397.8,763.1" fill="none" stroke="#7d776b" stroke-width="7.5" stroke-linecap="round"/>
<path d="M1397.8,635.9 A120,120 0 0 1 1397.8,763.1" fill="none" stroke="#cdc8bc" stroke-width="2.5" stroke-linecap="round"/>
<path d="M1409.9,638.9 A129,129 0 0 1 1409.9,760.1" fill="none" stroke="#7d776b" stroke-width="7.5" stroke-linecap="round"/>
<path d="M1409.9,638.9 A129,129 0 0 1 1409.9,760.1" fill="none" stroke="#cdc8bc" stroke-width="2.5" stroke-linecap="round"/>
<circle cx="1296" cy="700.5" r="67.5" fill="url(#nuc)"/>
<circle cx="1296" cy="700.5" r="68" fill="none" stroke="#cfa35a" stroke-width="6" pathLength="400" stroke-dasharray="88 12" stroke-dashoffset="44"/>
<path d="M1270,668 c8,-8 14,6 22,-2 s14,6 22,-2" fill="none" stroke="#4a7ab0" stroke-width="3"/>
<path d="M1268,712 c6,-10 10,8 16,-2 s10,8 16,-2 s10,8 16,-2 s10,8 16,-2 s10,8 16,-2" fill="none" stroke="#6a6ab8" stroke-width="4"/>
<circle cx="1286.5" cy="685" r="4.8" fill="#e00010"/>
<circle cx="1316.6" cy="688.6" r="4.8" fill="#e00010"/>
<circle cx="1250.5" cy="698.2" r="4.8" fill="#e00010"/>
<circle cx="1278" cy="729.4" r="4.8" fill="#e00010"/>
<circle cx="1284" cy="742.6" r="4.8" fill="#e00010"/>
<circle cx="1301" cy="740.2" r="4.8" fill="#e00010"/>
<circle cx="1329.8" cy="745" r="4.8" fill="#e00010"/>
<circle cx="1341.8" cy="728.2" r="4.8" fill="#e00010"/></g></svg></body></html>
